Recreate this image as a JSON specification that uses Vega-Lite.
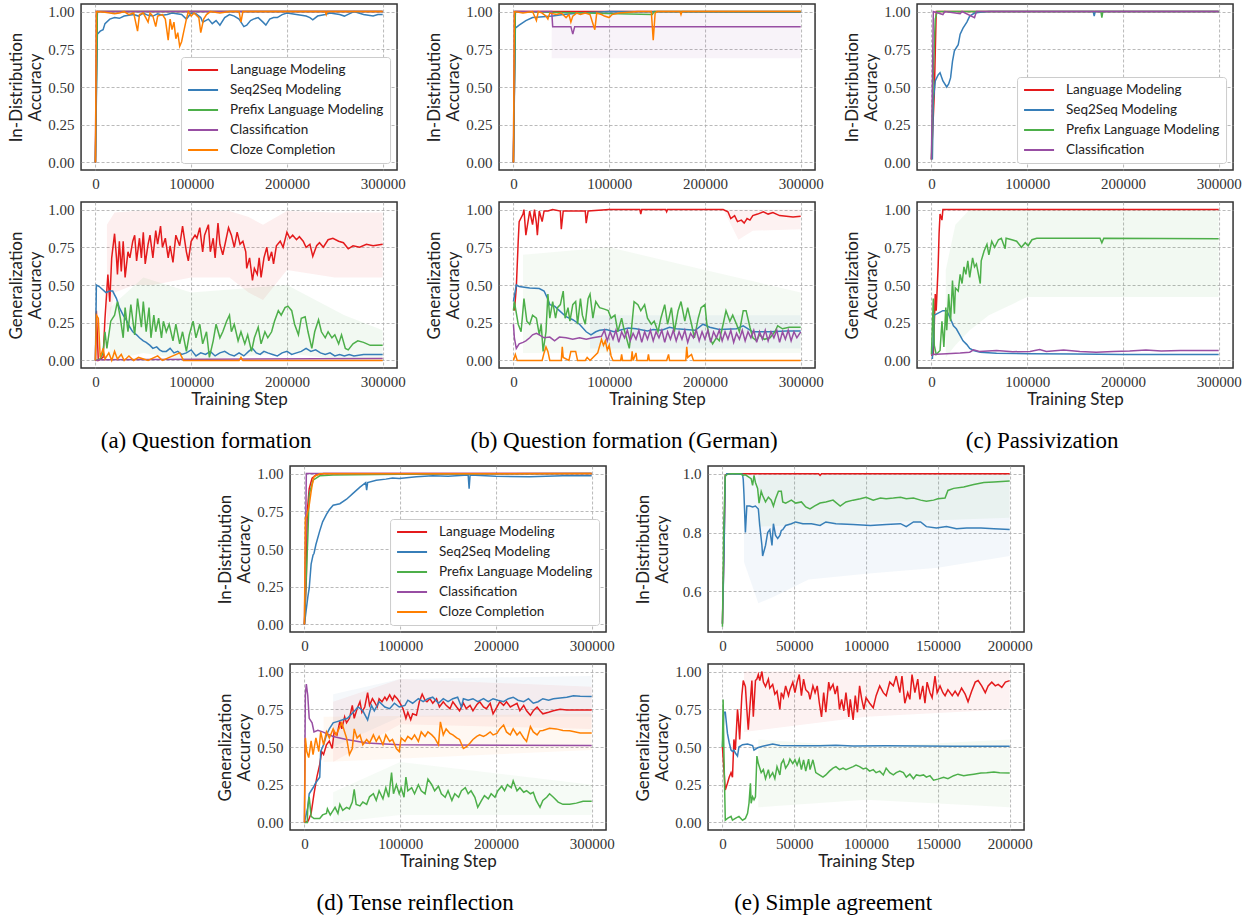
{
"$schema":"https://vega.github.io/schema/vega-lite/v6.json",
"padding":{"left":6,"top":3,"right":0,"bottom":0},
"background":"white",
"config":{
"view":{"stroke":"#333333","strokeWidth":1.5},
"axis":{"domain":false,"ticks":false,"tickSize":0,"labelFont":"Liberation Serif","labelFontSize":15,"labelColor":"#333333","titleFont":"Lato","titleFontSize":17,"titleFontWeight":"normal","titleColor":"#222222","gridColor":"#a8a8a8","gridDash":[3,2],"gridWidth":0.8},
"axisX":{"labelPadding":6,"titlePadding":2},
"axisY":{"labelPadding":7,"titlePadding":4,"minExtent":33,"maxExtent":33,"titleLineHeight":19},
"legend":{"labelFont":"Lato","labelFontSize":13.5,"labelColor":"#222222","symbolType":"stroke","symbolSize":900,"symbolStrokeWidth":1.8,"clipHeight":14,"rowPadding":6,"labelOffset":11,"padding":6,"strokeColor":"#cccccc","fillColor":"#ffffff","cornerRadius":3,"orient":"bottom-right","offset":7},
"title":{"font":"Liberation Serif","fontSize":23,"fontWeight":"normal","color":"#000000","orient":"bottom","anchor":"middle","offset":22}
},
"data":{"values":[
{"p":"a2","m":"L","b":1,"x":12,"y":0.2,"y2":0.9},{"p":"a2","m":"L","b":1,"x":20,"y":0.45,"y2":0.98},{"p":"a2","m":"L","b":1,"x":40,"y":0.5,"y2":0.99},{"p":"a2","m":"L","b":1,"x":60,"y":0.5,"y2":0.99},{"p":"a2","m":"L","b":1,"x":100,"y":0.55,"y2":0.99},{"p":"a2","m":"L","b":1,"x":140,"y":0.55,"y2":0.99},{"p":"a2","m":"L","b":1,"x":160,"y":0.45,"y2":0.95},{"p":"a2","m":"L","b":1,"x":175,"y":0.4,"y2":0.9},{"p":"a2","m":"L","b":1,"x":200,"y":0.6,"y2":0.99},{"p":"a2","m":"L","b":1,"x":250,"y":0.55,"y2":0.98},{"p":"a2","m":"L","b":1,"x":300,"y":0.55,"y2":0.98},
{"p":"a2","m":"P","b":1,"x":15,"y":0,"y2":0.35},{"p":"a2","m":"P","b":1,"x":50,"y":0.05,"y2":0.55},{"p":"a2","m":"P","b":1,"x":100,"y":0,"y2":0.45},{"p":"a2","m":"P","b":1,"x":200,"y":0.05,"y2":0.5},{"p":"a2","m":"P","b":1,"x":260,"y":0,"y2":0.3},{"p":"a2","m":"P","b":1,"x":300,"y":0,"y2":0.2},
{"p":"b1","m":"C","b":1,"x":40,"y":0.69,"y2":1},{"p":"b1","m":"C","b":1,"x":300,"y":0.69,"y2":1},
{"p":"b2","m":"L","b":1,"x":220,"y":0.99,"y2":1},{"p":"b2","m":"L","b":1,"x":235,"y":0.8,"y2":1},{"p":"b2","m":"L","b":1,"x":250,"y":0.86,"y2":1},{"p":"b2","m":"L","b":1,"x":300,"y":0.87,"y2":1},
{"p":"b2","m":"P","b":1,"x":10,"y":0.05,"y2":0.7},{"p":"b2","m":"P","b":1,"x":100,"y":0.05,"y2":0.75},{"p":"b2","m":"P","b":1,"x":200,"y":0.05,"y2":0.6},{"p":"b2","m":"P","b":1,"x":300,"y":0.05,"y2":0.45},
{"p":"b2","m":"S","b":1,"x":80,"y":0.08,"y2":0.3},{"p":"b2","m":"S","b":1,"x":300,"y":0.08,"y2":0.3},
{"p":"c2","m":"P","b":1,"x":15,"y":0.02,"y2":0.6},{"p":"c2","m":"P","b":1,"x":25,"y":0.1,"y2":0.9},{"p":"c2","m":"P","b":1,"x":40,"y":0.2,"y2":1},{"p":"c2","m":"P","b":1,"x":60,"y":0.3,"y2":1},{"p":"c2","m":"P","b":1,"x":100,"y":0.42,"y2":1},{"p":"c2","m":"P","b":1,"x":300,"y":0.42,"y2":1},
{"p":"d2","m":"L","b":1,"x":30,"y":0.4,"y2":0.8},{"p":"d2","m":"L","b":1,"x":100,"y":0.65,"y2":0.95},{"p":"d2","m":"L","b":1,"x":300,"y":0.62,"y2":0.9},
{"p":"d2","m":"S","b":1,"x":30,"y":0.5,"y2":0.85},{"p":"d2","m":"S","b":1,"x":100,"y":0.7,"y2":0.95},{"p":"d2","m":"S","b":1,"x":300,"y":0.7,"y2":0.97},
{"p":"d2","m":"Z","b":1,"x":20,"y":0.4,"y2":0.7},{"p":"d2","m":"Z","b":1,"x":300,"y":0.48,"y2":0.72},
{"p":"d2","m":"P","b":1,"x":30,"y":0,"y2":0.2},{"p":"d2","m":"P","b":1,"x":100,"y":0.05,"y2":0.4},{"p":"d2","m":"P","b":1,"x":300,"y":0.05,"y2":0.25},
{"p":"e1","m":"C","b":1,"x":15,"y":0.7,"y2":1},{"p":"e1","m":"C","b":1,"x":25,"y":0.56,"y2":1},{"p":"e1","m":"C","b":1,"x":35,"y":0.58,"y2":1},{"p":"e1","m":"C","b":1,"x":60,"y":0.64,"y2":1},{"p":"e1","m":"C","b":1,"x":100,"y":0.66,"y2":1},{"p":"e1","m":"C","b":1,"x":150,"y":0.68,"y2":1},{"p":"e1","m":"C","b":1,"x":200,"y":0.72,"y2":1},
{"p":"e1","m":"Z","b":1,"x":25,"y":0.82,"y2":1},{"p":"e1","m":"Z","b":1,"x":200,"y":0.85,"y2":1},
{"p":"e2","m":"L","b":1,"x":15,"y":0.6,"y2":1},{"p":"e2","m":"L","b":1,"x":100,"y":0.7,"y2":1},{"p":"e2","m":"L","b":1,"x":200,"y":0.75,"y2":1},
{"p":"e2","m":"Z","b":1,"x":25,"y":0.1,"y2":0.55},{"p":"e2","m":"Z","b":1,"x":100,"y":0.15,"y2":0.5},{"p":"e2","m":"Z","b":1,"x":200,"y":0.1,"y2":0.55},
{"p":"a1","m":"L","x":0,"y":0},{"p":"a1","m":"L","x":1,"y":0.6},{"p":"a1","m":"L","x":2,"y":1},{"p":"a1","m":"L","x":300,"y":1},
{"p":"a1","m":"S","x":0,"y":0},{"p":"a1","m":"S","x":2,"y":0.85},{"p":"a1","m":"S","x":5,"y":0.87},{"p":"a1","m":"S","x":8,"y":0.88},{"p":"a1","m":"S","x":10,"y":0.92},{"p":"a1","m":"S","x":15,"y":0.95},{"p":"a1","m":"S","x":20,"y":0.96},{"p":"a1","m":"S","x":25,"y":0.955},{"p":"a1","m":"S","x":30,"y":0.97},{"p":"a1","m":"S","x":35,"y":0.975},{"p":"a1","m":"S","x":40,"y":0.98},{"p":"a1","m":"S","x":45,"y":0.97},{"p":"a1","m":"S","x":50,"y":0.99},{"p":"a1","m":"S","x":55,"y":0.975},{"p":"a1","m":"S","x":60,"y":0.97},{"p":"a1","m":"S","x":65,"y":0.985},{"p":"a1","m":"S","x":70,"y":0.975},{"p":"a1","m":"S","x":75,"y":0.98},{"p":"a1","m":"S","x":80,"y":0.99},{"p":"a1","m":"S","x":85,"y":0.985},{"p":"a1","m":"S","x":90,"y":0.98},{"p":"a1","m":"S","x":95,"y":0.95},{"p":"a1","m":"S","x":100,"y":0.99},{"p":"a1","m":"S","x":105,"y":0.985},{"p":"a1","m":"S","x":110,"y":0.96},{"p":"a1","m":"S","x":112,"y":0.93},{"p":"a1","m":"S","x":118,"y":0.95},{"p":"a1","m":"S","x":122,"y":0.92},{"p":"a1","m":"S","x":126,"y":0.94},{"p":"a1","m":"S","x":130,"y":0.91},{"p":"a1","m":"S","x":135,"y":0.96},{"p":"a1","m":"S","x":140,"y":0.98},{"p":"a1","m":"S","x":145,"y":0.97},{"p":"a1","m":"S","x":150,"y":0.95},{"p":"a1","m":"S","x":155,"y":0.9},{"p":"a1","m":"S","x":158,"y":0.91},{"p":"a1","m":"S","x":162,"y":0.94},{"p":"a1","m":"S","x":165,"y":0.95},{"p":"a1","m":"S","x":170,"y":0.96},{"p":"a1","m":"S","x":175,"y":0.93},{"p":"a1","m":"S","x":178,"y":0.91},{"p":"a1","m":"S","x":182,"y":0.95},{"p":"a1","m":"S","x":186,"y":0.96},{"p":"a1","m":"S","x":190,"y":0.96},{"p":"a1","m":"S","x":195,"y":0.98},{"p":"a1","m":"S","x":200,"y":0.99},{"p":"a1","m":"S","x":205,"y":0.985},{"p":"a1","m":"S","x":210,"y":0.98},{"p":"a1","m":"S","x":215,"y":0.975},{"p":"a1","m":"S","x":220,"y":0.97},{"p":"a1","m":"S","x":224,"y":0.96},{"p":"a1","m":"S","x":227,"y":0.945},{"p":"a1","m":"S","x":232,"y":0.97},{"p":"a1","m":"S","x":236,"y":0.975},{"p":"a1","m":"S","x":240,"y":0.98},{"p":"a1","m":"S","x":245,"y":0.99},{"p":"a1","m":"S","x":250,"y":0.985},{"p":"a1","m":"S","x":255,"y":0.98},{"p":"a1","m":"S","x":260,"y":0.97},{"p":"a1","m":"S","x":265,"y":0.985},{"p":"a1","m":"S","x":270,"y":1},{"p":"a1","m":"S","x":275,"y":0.99},{"p":"a1","m":"S","x":280,"y":0.98},{"p":"a1","m":"S","x":285,"y":0.975},{"p":"a1","m":"S","x":290,"y":0.97},{"p":"a1","m":"S","x":295,"y":0.98},{"p":"a1","m":"S","x":300,"y":0.98},
{"p":"a1","m":"P","x":0,"y":0},{"p":"a1","m":"P","x":2,"y":1},{"p":"a1","m":"P","x":300,"y":1},
{"p":"a1","m":"C","x":0,"y":0},{"p":"a1","m":"C","x":1,"y":1},{"p":"a1","m":"C","x":300,"y":1},
{"p":"a1","m":"Z","x":0,"y":0},{"p":"a1","m":"Z","x":1,"y":1},{"p":"a1","m":"Z","x":10,"y":0.995},{"p":"a1","m":"Z","x":20,"y":0.985},{"p":"a1","m":"Z","x":25,"y":0.99},{"p":"a1","m":"Z","x":30,"y":1},{"p":"a1","m":"Z","x":35,"y":0.98},{"p":"a1","m":"Z","x":40,"y":0.99},{"p":"a1","m":"Z","x":44,"y":0.87},{"p":"a1","m":"Z","x":46,"y":0.98},{"p":"a1","m":"Z","x":50,"y":0.99},{"p":"a1","m":"Z","x":55,"y":0.93},{"p":"a1","m":"Z","x":57,"y":0.99},{"p":"a1","m":"Z","x":60,"y":0.97},{"p":"a1","m":"Z","x":63,"y":0.9},{"p":"a1","m":"Z","x":65,"y":0.97},{"p":"a1","m":"Z","x":70,"y":0.98},{"p":"a1","m":"Z","x":73,"y":0.95},{"p":"a1","m":"Z","x":76,"y":0.81},{"p":"a1","m":"Z","x":78,"y":0.95},{"p":"a1","m":"Z","x":80,"y":0.88},{"p":"a1","m":"Z","x":82,"y":0.93},{"p":"a1","m":"Z","x":84,"y":0.82},{"p":"a1","m":"Z","x":86,"y":0.86},{"p":"a1","m":"Z","x":88,"y":0.77},{"p":"a1","m":"Z","x":90,"y":0.8},{"p":"a1","m":"Z","x":92,"y":0.86},{"p":"a1","m":"Z","x":95,"y":0.95},{"p":"a1","m":"Z","x":97,"y":1},{"p":"a1","m":"Z","x":100,"y":0.97},{"p":"a1","m":"Z","x":103,"y":0.99},{"p":"a1","m":"Z","x":108,"y":0.96},{"p":"a1","m":"Z","x":110,"y":0.86},{"p":"a1","m":"Z","x":113,"y":0.95},{"p":"a1","m":"Z","x":116,"y":0.98},{"p":"a1","m":"Z","x":120,"y":1},{"p":"a1","m":"Z","x":130,"y":0.99},{"p":"a1","m":"Z","x":140,"y":1},{"p":"a1","m":"Z","x":150,"y":1},{"p":"a1","m":"Z","x":152,"y":0.93},{"p":"a1","m":"Z","x":154,"y":1},{"p":"a1","m":"Z","x":240,"y":1},{"p":"a1","m":"Z","x":241,"y":0.98},{"p":"a1","m":"Z","x":242,"y":1},{"p":"a1","m":"Z","x":300,"y":1},
{"p":"a2","m":"L","x":0,"y":0},{"p":"a2","m":"L","x":1,"y":0.33},{"p":"a2","m":"L","x":3,"y":0},{"p":"a2","m":"L","x":8,"y":0.02},{"p":"a2","m":"L","x":10,"y":0.28},{"p":"a2","m":"L","x":13,"y":0.57},{"p":"a2","m":"L","x":15,"y":0.39},{"p":"a2","m":"L","x":17,"y":0.68},{"p":"a2","m":"L","x":20,"y":0.84},{"p":"a2","m":"L","x":22,"y":0.68},{"p":"a2","m":"L","x":23,"y":0.57},{"p":"a2","m":"L","x":25,"y":0.79},{"p":"a2","m":"L","x":27,"y":0.59},{"p":"a2","m":"L","x":29,"y":0.79},{"p":"a2","m":"L","x":31,"y":0.55},{"p":"a2","m":"L","x":34,"y":0.72},{"p":"a2","m":"L","x":36,"y":0.68},{"p":"a2","m":"L","x":39,"y":0.79},{"p":"a2","m":"L","x":41,"y":0.83},{"p":"a2","m":"L","x":43,"y":0.66},{"p":"a2","m":"L","x":46,"y":0.81},{"p":"a2","m":"L","x":48,"y":0.68},{"p":"a2","m":"L","x":50,"y":0.85},{"p":"a2","m":"L","x":52,"y":0.64},{"p":"a2","m":"L","x":55,"y":0.77},{"p":"a2","m":"L","x":57,"y":0.83},{"p":"a2","m":"L","x":60,"y":0.68},{"p":"a2","m":"L","x":63,"y":0.86},{"p":"a2","m":"L","x":65,"y":0.77},{"p":"a2","m":"L","x":68,"y":0.89},{"p":"a2","m":"L","x":70,"y":0.75},{"p":"a2","m":"L","x":73,"y":0.81},{"p":"a2","m":"L","x":76,"y":0.68},{"p":"a2","m":"L","x":78,"y":0.76},{"p":"a2","m":"L","x":81,"y":0.65},{"p":"a2","m":"L","x":84,"y":0.83},{"p":"a2","m":"L","x":88,"y":0.76},{"p":"a2","m":"L","x":91,"y":0.89},{"p":"a2","m":"L","x":95,"y":0.72},{"p":"a2","m":"L","x":97,"y":0.66},{"p":"a2","m":"L","x":100,"y":0.79},{"p":"a2","m":"L","x":104,"y":0.83},{"p":"a2","m":"L","x":106,"y":0.81},{"p":"a2","m":"L","x":109,"y":0.88},{"p":"a2","m":"L","x":112,"y":0.72},{"p":"a2","m":"L","x":114,"y":0.83},{"p":"a2","m":"L","x":118,"y":0.9},{"p":"a2","m":"L","x":120,"y":0.72},{"p":"a2","m":"L","x":123,"y":0.81},{"p":"a2","m":"L","x":125,"y":0.68},{"p":"a2","m":"L","x":128,"y":0.91},{"p":"a2","m":"L","x":130,"y":0.77},{"p":"a2","m":"L","x":133,"y":0.7},{"p":"a2","m":"L","x":136,"y":0.79},{"p":"a2","m":"L","x":139,"y":0.88},{"p":"a2","m":"L","x":142,"y":0.83},{"p":"a2","m":"L","x":145,"y":0.75},{"p":"a2","m":"L","x":148,"y":0.85},{"p":"a2","m":"L","x":151,"y":0.77},{"p":"a2","m":"L","x":154,"y":0.79},{"p":"a2","m":"L","x":157,"y":0.72},{"p":"a2","m":"L","x":158,"y":0.61},{"p":"a2","m":"L","x":161,"y":0.68},{"p":"a2","m":"L","x":164,"y":0.53},{"p":"a2","m":"L","x":166,"y":0.61},{"p":"a2","m":"L","x":169,"y":0.57},{"p":"a2","m":"L","x":171,"y":0.68},{"p":"a2","m":"L","x":173,"y":0.55},{"p":"a2","m":"L","x":176,"y":0.68},{"p":"a2","m":"L","x":179,"y":0.75},{"p":"a2","m":"L","x":181,"y":0.66},{"p":"a2","m":"L","x":184,"y":0.72},{"p":"a2","m":"L","x":186,"y":0.64},{"p":"a2","m":"L","x":189,"y":0.76},{"p":"a2","m":"L","x":193,"y":0.79},{"p":"a2","m":"L","x":196,"y":0.75},{"p":"a2","m":"L","x":200,"y":0.85},{"p":"a2","m":"L","x":203,"y":0.81},{"p":"a2","m":"L","x":206,"y":0.83},{"p":"a2","m":"L","x":210,"y":0.8},{"p":"a2","m":"L","x":213,"y":0.82},{"p":"a2","m":"L","x":217,"y":0.79},{"p":"a2","m":"L","x":220,"y":0.75},{"p":"a2","m":"L","x":224,"y":0.77},{"p":"a2","m":"L","x":227,"y":0.69},{"p":"a2","m":"L","x":231,"y":0.76},{"p":"a2","m":"L","x":234,"y":0.78},{"p":"a2","m":"L","x":238,"y":0.75},{"p":"a2","m":"L","x":243,"y":0.8},{"p":"a2","m":"L","x":248,"y":0.81},{"p":"a2","m":"L","x":254,"y":0.79},{"p":"a2","m":"L","x":259,"y":0.78},{"p":"a2","m":"L","x":264,"y":0.74},{"p":"a2","m":"L","x":269,"y":0.76},{"p":"a2","m":"L","x":276,"y":0.75},{"p":"a2","m":"L","x":283,"y":0.77},{"p":"a2","m":"L","x":290,"y":0.76},{"p":"a2","m":"L","x":300,"y":0.77},
{"p":"a2","m":"S","x":0,"y":0},{"p":"a2","m":"S","x":1,"y":0.5},{"p":"a2","m":"S","x":4,"y":0.49},{"p":"a2","m":"S","x":11,"y":0.45},{"p":"a2","m":"S","x":15,"y":0.46},{"p":"a2","m":"S","x":18,"y":0.46},{"p":"a2","m":"S","x":22,"y":0.41},{"p":"a2","m":"S","x":25,"y":0.35},{"p":"a2","m":"S","x":29,"y":0.3},{"p":"a2","m":"S","x":32,"y":0.27},{"p":"a2","m":"S","x":36,"y":0.22},{"p":"a2","m":"S","x":39,"y":0.19},{"p":"a2","m":"S","x":43,"y":0.17},{"p":"a2","m":"S","x":46,"y":0.15},{"p":"a2","m":"S","x":50,"y":0.13},{"p":"a2","m":"S","x":53,"y":0.12},{"p":"a2","m":"S","x":57,"y":0.1},{"p":"a2","m":"S","x":60,"y":0.08},{"p":"a2","m":"S","x":64,"y":0.09},{"p":"a2","m":"S","x":67,"y":0.07},{"p":"a2","m":"S","x":70,"y":0.06},{"p":"a2","m":"S","x":74,"y":0.06},{"p":"a2","m":"S","x":78,"y":0.08},{"p":"a2","m":"S","x":82,"y":0.05},{"p":"a2","m":"S","x":86,"y":0.06},{"p":"a2","m":"S","x":90,"y":0.04},{"p":"a2","m":"S","x":95,"y":0.05},{"p":"a2","m":"S","x":100,"y":0.07},{"p":"a2","m":"S","x":105,"y":0.03},{"p":"a2","m":"S","x":110,"y":0.05},{"p":"a2","m":"S","x":115,"y":0.04},{"p":"a2","m":"S","x":120,"y":0.06},{"p":"a2","m":"S","x":125,"y":0.03},{"p":"a2","m":"S","x":130,"y":0.05},{"p":"a2","m":"S","x":135,"y":0.06},{"p":"a2","m":"S","x":140,"y":0.04},{"p":"a2","m":"S","x":145,"y":0.03},{"p":"a2","m":"S","x":150,"y":0.05},{"p":"a2","m":"S","x":155,"y":0.03},{"p":"a2","m":"S","x":160,"y":0.06},{"p":"a2","m":"S","x":164,"y":0.08},{"p":"a2","m":"S","x":168,"y":0.05},{"p":"a2","m":"S","x":172,"y":0.04},{"p":"a2","m":"S","x":176,"y":0.06},{"p":"a2","m":"S","x":180,"y":0.05},{"p":"a2","m":"S","x":185,"y":0.04},{"p":"a2","m":"S","x":190,"y":0.03},{"p":"a2","m":"S","x":195,"y":0.05},{"p":"a2","m":"S","x":200,"y":0.06},{"p":"a2","m":"S","x":205,"y":0.04},{"p":"a2","m":"S","x":210,"y":0.05},{"p":"a2","m":"S","x":215,"y":0.06},{"p":"a2","m":"S","x":220,"y":0.08},{"p":"a2","m":"S","x":225,"y":0.06},{"p":"a2","m":"S","x":230,"y":0.07},{"p":"a2","m":"S","x":235,"y":0.05},{"p":"a2","m":"S","x":240,"y":0.04},{"p":"a2","m":"S","x":245,"y":0.05},{"p":"a2","m":"S","x":250,"y":0.03},{"p":"a2","m":"S","x":255,"y":0.04},{"p":"a2","m":"S","x":260,"y":0.03},{"p":"a2","m":"S","x":265,"y":0.04},{"p":"a2","m":"S","x":270,"y":0.03},{"p":"a2","m":"S","x":280,"y":0.04},{"p":"a2","m":"S","x":290,"y":0.04},{"p":"a2","m":"S","x":300,"y":0.04},
{"p":"a2","m":"P","x":0,"y":0},{"p":"a2","m":"P","x":5,"y":0.01},{"p":"a2","m":"P","x":8,"y":0.05},{"p":"a2","m":"P","x":10,"y":0.19},{"p":"a2","m":"P","x":12,"y":0.08},{"p":"a2","m":"P","x":16,"y":0.26},{"p":"a2","m":"P","x":20,"y":0.3},{"p":"a2","m":"P","x":23,"y":0.39},{"p":"a2","m":"P","x":26,"y":0.28},{"p":"a2","m":"P","x":29,"y":0.15},{"p":"a2","m":"P","x":31,"y":0.35},{"p":"a2","m":"P","x":34,"y":0.19},{"p":"a2","m":"P","x":37,"y":0.37},{"p":"a2","m":"P","x":41,"y":0.17},{"p":"a2","m":"P","x":44,"y":0.41},{"p":"a2","m":"P","x":48,"y":0.22},{"p":"a2","m":"P","x":50,"y":0.39},{"p":"a2","m":"P","x":53,"y":0.19},{"p":"a2","m":"P","x":56,"y":0.35},{"p":"a2","m":"P","x":58,"y":0.15},{"p":"a2","m":"P","x":61,"y":0.3},{"p":"a2","m":"P","x":63,"y":0.19},{"p":"a2","m":"P","x":66,"y":0.28},{"p":"a2","m":"P","x":69,"y":0.15},{"p":"a2","m":"P","x":71,"y":0.26},{"p":"a2","m":"P","x":74,"y":0.19},{"p":"a2","m":"P","x":77,"y":0.24},{"p":"a2","m":"P","x":81,"y":0.13},{"p":"a2","m":"P","x":84,"y":0.24},{"p":"a2","m":"P","x":88,"y":0.11},{"p":"a2","m":"P","x":91,"y":0.19},{"p":"a2","m":"P","x":95,"y":0.06},{"p":"a2","m":"P","x":98,"y":0.17},{"p":"a2","m":"P","x":102,"y":0.26},{"p":"a2","m":"P","x":105,"y":0.15},{"p":"a2","m":"P","x":109,"y":0.24},{"p":"a2","m":"P","x":112,"y":0.11},{"p":"a2","m":"P","x":116,"y":0.19},{"p":"a2","m":"P","x":119,"y":0.02},{"p":"a2","m":"P","x":123,"y":0.13},{"p":"a2","m":"P","x":126,"y":0.24},{"p":"a2","m":"P","x":130,"y":0.15},{"p":"a2","m":"P","x":133,"y":0.19},{"p":"a2","m":"P","x":137,"y":0.26},{"p":"a2","m":"P","x":140,"y":0.3},{"p":"a2","m":"P","x":142,"y":0.19},{"p":"a2","m":"P","x":145,"y":0.24},{"p":"a2","m":"P","x":149,"y":0.13},{"p":"a2","m":"P","x":152,"y":0.19},{"p":"a2","m":"P","x":156,"y":0.11},{"p":"a2","m":"P","x":159,"y":0.17},{"p":"a2","m":"P","x":163,"y":0.06},{"p":"a2","m":"P","x":166,"y":0.15},{"p":"a2","m":"P","x":170,"y":0.22},{"p":"a2","m":"P","x":173,"y":0.11},{"p":"a2","m":"P","x":177,"y":0.19},{"p":"a2","m":"P","x":180,"y":0.15},{"p":"a2","m":"P","x":184,"y":0.19},{"p":"a2","m":"P","x":187,"y":0.26},{"p":"a2","m":"P","x":191,"y":0.33},{"p":"a2","m":"P","x":194,"y":0.3},{"p":"a2","m":"P","x":198,"y":0.35},{"p":"a2","m":"P","x":201,"y":0.36},{"p":"a2","m":"P","x":205,"y":0.33},{"p":"a2","m":"P","x":208,"y":0.24},{"p":"a2","m":"P","x":212,"y":0.17},{"p":"a2","m":"P","x":215,"y":0.28},{"p":"a2","m":"P","x":219,"y":0.29},{"p":"a2","m":"P","x":222,"y":0.19},{"p":"a2","m":"P","x":226,"y":0.08},{"p":"a2","m":"P","x":229,"y":0.19},{"p":"a2","m":"P","x":233,"y":0.27},{"p":"a2","m":"P","x":236,"y":0.19},{"p":"a2","m":"P","x":240,"y":0.15},{"p":"a2","m":"P","x":243,"y":0.19},{"p":"a2","m":"P","x":247,"y":0.15},{"p":"a2","m":"P","x":250,"y":0.17},{"p":"a2","m":"P","x":254,"y":0.11},{"p":"a2","m":"P","x":257,"y":0.17},{"p":"a2","m":"P","x":261,"y":0.08},{"p":"a2","m":"P","x":264,"y":0.07},{"p":"a2","m":"P","x":269,"y":0.11},{"p":"a2","m":"P","x":274,"y":0.13},{"p":"a2","m":"P","x":280,"y":0.12},{"p":"a2","m":"P","x":287,"y":0.1},{"p":"a2","m":"P","x":300,"y":0.1},
{"p":"a2","m":"C","x":0,"y":0},{"p":"a2","m":"C","x":5,"y":0.005},{"p":"a2","m":"C","x":300,"y":0.013},
{"p":"a2","m":"Z","x":0,"y":0},{"p":"a2","m":"Z","x":1,"y":0.3},{"p":"a2","m":"Z","x":3,"y":0.28},{"p":"a2","m":"Z","x":5,"y":0.02},{"p":"a2","m":"Z","x":8,"y":0.08},{"p":"a2","m":"Z","x":10,"y":0.01},{"p":"a2","m":"Z","x":14,"y":0.05},{"p":"a2","m":"Z","x":17,"y":0},{"p":"a2","m":"Z","x":20,"y":0.06},{"p":"a2","m":"Z","x":23,"y":0.01},{"p":"a2","m":"Z","x":27,"y":0.04},{"p":"a2","m":"Z","x":30,"y":0},{"p":"a2","m":"Z","x":35,"y":0.03},{"p":"a2","m":"Z","x":40,"y":0},{"p":"a2","m":"Z","x":45,"y":0.02},{"p":"a2","m":"Z","x":55,"y":0},{"p":"a2","m":"Z","x":65,"y":0.03},{"p":"a2","m":"Z","x":70,"y":0},{"p":"a2","m":"Z","x":88,"y":0.05},{"p":"a2","m":"Z","x":92,"y":0},{"p":"a2","m":"Z","x":150,"y":0},{"p":"a2","m":"Z","x":152,"y":0.02},{"p":"a2","m":"Z","x":154,"y":0},{"p":"a2","m":"Z","x":300,"y":0},
{"p":"b1","m":"L","x":0,"y":0},{"p":"b1","m":"L","x":2,"y":1},{"p":"b1","m":"L","x":300,"y":1},
{"p":"b1","m":"S","x":0,"y":0},{"p":"b1","m":"S","x":2,"y":0.89},{"p":"b1","m":"S","x":6,"y":0.91},{"p":"b1","m":"S","x":13,"y":0.94},{"p":"b1","m":"S","x":20,"y":0.96},{"p":"b1","m":"S","x":31,"y":0.965},{"p":"b1","m":"S","x":41,"y":0.97},{"p":"b1","m":"S","x":52,"y":0.98},{"p":"b1","m":"S","x":69,"y":0.99},{"p":"b1","m":"S","x":86,"y":0.995},{"p":"b1","m":"S","x":100,"y":1},{"p":"b1","m":"S","x":300,"y":0.995},
{"p":"b1","m":"P","x":0,"y":0},{"p":"b1","m":"P","x":2,"y":1},{"p":"b1","m":"P","x":145,"y":0.98},{"p":"b1","m":"P","x":147,"y":1},{"p":"b1","m":"P","x":300,"y":1},
{"p":"b1","m":"C","x":0,"y":0},{"p":"b1","m":"C","x":1,"y":1},{"p":"b1","m":"C","x":40,"y":1},{"p":"b1","m":"C","x":41,"y":0.9},{"p":"b1","m":"C","x":60,"y":0.9},{"p":"b1","m":"C","x":62,"y":0.85},{"p":"b1","m":"C","x":64,"y":0.9},{"p":"b1","m":"C","x":300,"y":0.9},
{"p":"b1","m":"Z","x":0,"y":0},{"p":"b1","m":"Z","x":1,"y":1},{"p":"b1","m":"Z","x":10,"y":0.99},{"p":"b1","m":"Z","x":20,"y":1},{"p":"b1","m":"Z","x":24,"y":0.94},{"p":"b1","m":"Z","x":26,"y":1},{"p":"b1","m":"Z","x":30,"y":0.99},{"p":"b1","m":"Z","x":34,"y":0.97},{"p":"b1","m":"Z","x":36,"y":0.95},{"p":"b1","m":"Z","x":38,"y":0.99},{"p":"b1","m":"Z","x":45,"y":0.98},{"p":"b1","m":"Z","x":50,"y":0.99},{"p":"b1","m":"Z","x":55,"y":0.96},{"p":"b1","m":"Z","x":58,"y":0.98},{"p":"b1","m":"Z","x":60,"y":0.93},{"p":"b1","m":"Z","x":62,"y":0.97},{"p":"b1","m":"Z","x":66,"y":0.99},{"p":"b1","m":"Z","x":70,"y":0.98},{"p":"b1","m":"Z","x":75,"y":0.99},{"p":"b1","m":"Z","x":80,"y":0.98},{"p":"b1","m":"Z","x":85,"y":0.88},{"p":"b1","m":"Z","x":87,"y":0.99},{"p":"b1","m":"Z","x":92,"y":0.98},{"p":"b1","m":"Z","x":95,"y":0.97},{"p":"b1","m":"Z","x":100,"y":0.96},{"p":"b1","m":"Z","x":103,"y":0.98},{"p":"b1","m":"Z","x":110,"y":0.99},{"p":"b1","m":"Z","x":130,"y":1},{"p":"b1","m":"Z","x":144,"y":1},{"p":"b1","m":"Z","x":146,"y":0.81},{"p":"b1","m":"Z","x":148,"y":0.99},{"p":"b1","m":"Z","x":150,"y":1},{"p":"b1","m":"Z","x":174,"y":1},{"p":"b1","m":"Z","x":175,"y":0.98},{"p":"b1","m":"Z","x":176,"y":1},{"p":"b1","m":"Z","x":300,"y":1},
{"p":"b2","m":"L","x":1,"y":0.33},{"p":"b2","m":"L","x":3,"y":0.48},{"p":"b2","m":"L","x":5,"y":0.79},{"p":"b2","m":"L","x":6,"y":0.92},{"p":"b2","m":"L","x":10,"y":0.97},{"p":"b2","m":"L","x":11,"y":1},{"p":"b2","m":"L","x":13,"y":0.83},{"p":"b2","m":"L","x":17,"y":0.99},{"p":"b2","m":"L","x":20,"y":0.9},{"p":"b2","m":"L","x":22,"y":1},{"p":"b2","m":"L","x":24,"y":0.91},{"p":"b2","m":"L","x":25,"y":0.83},{"p":"b2","m":"L","x":27,"y":0.99},{"p":"b2","m":"L","x":30,"y":0.92},{"p":"b2","m":"L","x":32,"y":0.99},{"p":"b2","m":"L","x":36,"y":0.99},{"p":"b2","m":"L","x":41,"y":1},{"p":"b2","m":"L","x":49,"y":0.99},{"p":"b2","m":"L","x":50,"y":0.87},{"p":"b2","m":"L","x":52,"y":0.99},{"p":"b2","m":"L","x":75,"y":0.99},{"p":"b2","m":"L","x":76,"y":0.91},{"p":"b2","m":"L","x":78,"y":0.99},{"p":"b2","m":"L","x":100,"y":1},{"p":"b2","m":"L","x":132,"y":1},{"p":"b2","m":"L","x":133,"y":0.97},{"p":"b2","m":"L","x":134,"y":1},{"p":"b2","m":"L","x":159,"y":1},{"p":"b2","m":"L","x":160,"y":0.985},{"p":"b2","m":"L","x":161,"y":1},{"p":"b2","m":"L","x":219,"y":1},{"p":"b2","m":"L","x":224,"y":0.985},{"p":"b2","m":"L","x":227,"y":0.94},{"p":"b2","m":"L","x":231,"y":0.96},{"p":"b2","m":"L","x":234,"y":0.92},{"p":"b2","m":"L","x":238,"y":0.93},{"p":"b2","m":"L","x":241,"y":0.91},{"p":"b2","m":"L","x":244,"y":0.94},{"p":"b2","m":"L","x":247,"y":0.93},{"p":"b2","m":"L","x":250,"y":0.96},{"p":"b2","m":"L","x":255,"y":0.97},{"p":"b2","m":"L","x":261,"y":0.985},{"p":"b2","m":"L","x":266,"y":0.97},{"p":"b2","m":"L","x":271,"y":0.98},{"p":"b2","m":"L","x":278,"y":0.96},{"p":"b2","m":"L","x":285,"y":0.955},{"p":"b2","m":"L","x":292,"y":0.95},{"p":"b2","m":"L","x":300,"y":0.955},
{"p":"b2","m":"S","x":0,"y":0.39},{"p":"b2","m":"S","x":3,"y":0.5},{"p":"b2","m":"S","x":6,"y":0.49},{"p":"b2","m":"S","x":17,"y":0.48},{"p":"b2","m":"S","x":27,"y":0.477},{"p":"b2","m":"S","x":32,"y":0.46},{"p":"b2","m":"S","x":35,"y":0.42},{"p":"b2","m":"S","x":38,"y":0.37},{"p":"b2","m":"S","x":43,"y":0.36},{"p":"b2","m":"S","x":48,"y":0.33},{"p":"b2","m":"S","x":55,"y":0.29},{"p":"b2","m":"S","x":62,"y":0.27},{"p":"b2","m":"S","x":69,"y":0.24},{"p":"b2","m":"S","x":76,"y":0.19},{"p":"b2","m":"S","x":81,"y":0.17},{"p":"b2","m":"S","x":86,"y":0.19},{"p":"b2","m":"S","x":90,"y":0.2},{"p":"b2","m":"S","x":97,"y":0.205},{"p":"b2","m":"S","x":105,"y":0.19},{"p":"b2","m":"S","x":111,"y":0.2},{"p":"b2","m":"S","x":120,"y":0.215},{"p":"b2","m":"S","x":128,"y":0.21},{"p":"b2","m":"S","x":140,"y":0.195},{"p":"b2","m":"S","x":146,"y":0.205},{"p":"b2","m":"S","x":155,"y":0.2},{"p":"b2","m":"S","x":163,"y":0.22},{"p":"b2","m":"S","x":170,"y":0.21},{"p":"b2","m":"S","x":180,"y":0.205},{"p":"b2","m":"S","x":190,"y":0.2},{"p":"b2","m":"S","x":198,"y":0.24},{"p":"b2","m":"S","x":205,"y":0.22},{"p":"b2","m":"S","x":215,"y":0.205},{"p":"b2","m":"S","x":233,"y":0.21},{"p":"b2","m":"S","x":240,"y":0.23},{"p":"b2","m":"S","x":250,"y":0.19},{"p":"b2","m":"S","x":268,"y":0.19},{"p":"b2","m":"S","x":285,"y":0.195},{"p":"b2","m":"S","x":300,"y":0.195},
{"p":"b2","m":"P","x":0,"y":0.33},{"p":"b2","m":"P","x":1,"y":0.39},{"p":"b2","m":"P","x":5,"y":0.24},{"p":"b2","m":"P","x":8,"y":0.19},{"p":"b2","m":"P","x":11,"y":0.41},{"p":"b2","m":"P","x":14,"y":0.26},{"p":"b2","m":"P","x":17,"y":0.24},{"p":"b2","m":"P","x":20,"y":0.3},{"p":"b2","m":"P","x":24,"y":0.28},{"p":"b2","m":"P","x":27,"y":0.17},{"p":"b2","m":"P","x":29,"y":0.24},{"p":"b2","m":"P","x":31,"y":0.06},{"p":"b2","m":"P","x":34,"y":0.19},{"p":"b2","m":"P","x":36,"y":0.44},{"p":"b2","m":"P","x":38,"y":0.28},{"p":"b2","m":"P","x":41,"y":0.39},{"p":"b2","m":"P","x":44,"y":0.28},{"p":"b2","m":"P","x":46,"y":0.35},{"p":"b2","m":"P","x":49,"y":0.37},{"p":"b2","m":"P","x":52,"y":0.46},{"p":"b2","m":"P","x":54,"y":0.28},{"p":"b2","m":"P","x":57,"y":0.35},{"p":"b2","m":"P","x":59,"y":0.26},{"p":"b2","m":"P","x":62,"y":0.37},{"p":"b2","m":"P","x":65,"y":0.39},{"p":"b2","m":"P","x":67,"y":0.24},{"p":"b2","m":"P","x":70,"y":0.41},{"p":"b2","m":"P","x":72,"y":0.3},{"p":"b2","m":"P","x":75,"y":0.24},{"p":"b2","m":"P","x":78,"y":0.41},{"p":"b2","m":"P","x":80,"y":0.44},{"p":"b2","m":"P","x":83,"y":0.28},{"p":"b2","m":"P","x":86,"y":0.39},{"p":"b2","m":"P","x":90,"y":0.35},{"p":"b2","m":"P","x":95,"y":0.34},{"p":"b2","m":"P","x":99,"y":0.33},{"p":"b2","m":"P","x":102,"y":0.28},{"p":"b2","m":"P","x":106,"y":0.3},{"p":"b2","m":"P","x":109,"y":0.19},{"p":"b2","m":"P","x":113,"y":0.28},{"p":"b2","m":"P","x":115,"y":0.22},{"p":"b2","m":"P","x":118,"y":0.15},{"p":"b2","m":"P","x":121,"y":0.08},{"p":"b2","m":"P","x":123,"y":0.19},{"p":"b2","m":"P","x":126,"y":0.39},{"p":"b2","m":"P","x":130,"y":0.37},{"p":"b2","m":"P","x":133,"y":0.33},{"p":"b2","m":"P","x":137,"y":0.37},{"p":"b2","m":"P","x":140,"y":0.28},{"p":"b2","m":"P","x":144,"y":0.24},{"p":"b2","m":"P","x":147,"y":0.26},{"p":"b2","m":"P","x":151,"y":0.19},{"p":"b2","m":"P","x":154,"y":0.28},{"p":"b2","m":"P","x":158,"y":0.37},{"p":"b2","m":"P","x":161,"y":0.24},{"p":"b2","m":"P","x":165,"y":0.35},{"p":"b2","m":"P","x":168,"y":0.19},{"p":"b2","m":"P","x":172,"y":0.33},{"p":"b2","m":"P","x":175,"y":0.39},{"p":"b2","m":"P","x":179,"y":0.26},{"p":"b2","m":"P","x":182,"y":0.35},{"p":"b2","m":"P","x":186,"y":0.24},{"p":"b2","m":"P","x":189,"y":0.15},{"p":"b2","m":"P","x":193,"y":0.28},{"p":"b2","m":"P","x":196,"y":0.35},{"p":"b2","m":"P","x":200,"y":0.37},{"p":"b2","m":"P","x":202,"y":0.24},{"p":"b2","m":"P","x":205,"y":0.15},{"p":"b2","m":"P","x":208,"y":0.11},{"p":"b2","m":"P","x":212,"y":0.15},{"p":"b2","m":"P","x":215,"y":0.13},{"p":"b2","m":"P","x":219,"y":0.24},{"p":"b2","m":"P","x":222,"y":0.33},{"p":"b2","m":"P","x":226,"y":0.26},{"p":"b2","m":"P","x":229,"y":0.3},{"p":"b2","m":"P","x":233,"y":0.24},{"p":"b2","m":"P","x":236,"y":0.19},{"p":"b2","m":"P","x":240,"y":0.33},{"p":"b2","m":"P","x":243,"y":0.33},{"p":"b2","m":"P","x":247,"y":0.22},{"p":"b2","m":"P","x":250,"y":0.15},{"p":"b2","m":"P","x":254,"y":0.13},{"p":"b2","m":"P","x":257,"y":0.17},{"p":"b2","m":"P","x":262,"y":0.14},{"p":"b2","m":"P","x":268,"y":0.15},{"p":"b2","m":"P","x":273,"y":0.19},{"p":"b2","m":"P","x":276,"y":0.23},{"p":"b2","m":"P","x":281,"y":0.21},{"p":"b2","m":"P","x":288,"y":0.22},{"p":"b2","m":"P","x":300,"y":0.22},
{"p":"b2","m":"C","x":0,"y":0.24},{"p":"b2","m":"C","x":1,"y":0.15},{"p":"b2","m":"C","x":3,"y":0.08},{"p":"b2","m":"C","x":6,"y":0.11},{"p":"b2","m":"C","x":10,"y":0.12},{"p":"b2","m":"C","x":13,"y":0.13},{"p":"b2","m":"C","x":17,"y":0.15},{"p":"b2","m":"C","x":20,"y":0.17},{"p":"b2","m":"C","x":24,"y":0.18},{"p":"b2","m":"C","x":27,"y":0.17},{"p":"b2","m":"C","x":32,"y":0.15},{"p":"b2","m":"C","x":38,"y":0.155},{"p":"b2","m":"C","x":43,"y":0.13},{"p":"b2","m":"C","x":48,"y":0.155},{"p":"b2","m":"C","x":55,"y":0.15},{"p":"b2","m":"C","x":62,"y":0.14},{"p":"b2","m":"C","x":69,"y":0.15},{"p":"b2","m":"C","x":76,"y":0.14},{"p":"b2","m":"C","x":83,"y":0.15},{"p":"b2","m":"C","x":92,"y":0.16},{"p":"b2","m":"C","x":95,"y":0.2},{"p":"b2","m":"C","x":98,"y":0.13},{"p":"b2","m":"C","x":101,"y":0.19},{"p":"b2","m":"C","x":104,"y":0.14},{"p":"b2","m":"C","x":107,"y":0.2},{"p":"b2","m":"C","x":110,"y":0.12},{"p":"b2","m":"C","x":113,"y":0.19},{"p":"b2","m":"C","x":116,"y":0.15},{"p":"b2","m":"C","x":119,"y":0.2},{"p":"b2","m":"C","x":122,"y":0.13},{"p":"b2","m":"C","x":125,"y":0.18},{"p":"b2","m":"C","x":128,"y":0.14},{"p":"b2","m":"C","x":131,"y":0.2},{"p":"b2","m":"C","x":134,"y":0.12},{"p":"b2","m":"C","x":137,"y":0.19},{"p":"b2","m":"C","x":140,"y":0.14},{"p":"b2","m":"C","x":143,"y":0.2},{"p":"b2","m":"C","x":146,"y":0.13},{"p":"b2","m":"C","x":149,"y":0.19},{"p":"b2","m":"C","x":152,"y":0.15},{"p":"b2","m":"C","x":155,"y":0.2},{"p":"b2","m":"C","x":158,"y":0.12},{"p":"b2","m":"C","x":161,"y":0.19},{"p":"b2","m":"C","x":164,"y":0.14},{"p":"b2","m":"C","x":167,"y":0.2},{"p":"b2","m":"C","x":170,"y":0.13},{"p":"b2","m":"C","x":173,"y":0.19},{"p":"b2","m":"C","x":176,"y":0.14},{"p":"b2","m":"C","x":179,"y":0.2},{"p":"b2","m":"C","x":182,"y":0.12},{"p":"b2","m":"C","x":185,"y":0.18},{"p":"b2","m":"C","x":188,"y":0.15},{"p":"b2","m":"C","x":191,"y":0.2},{"p":"b2","m":"C","x":194,"y":0.13},{"p":"b2","m":"C","x":197,"y":0.19},{"p":"b2","m":"C","x":200,"y":0.14},{"p":"b2","m":"C","x":203,"y":0.2},{"p":"b2","m":"C","x":206,"y":0.12},{"p":"b2","m":"C","x":209,"y":0.19},{"p":"b2","m":"C","x":212,"y":0.15},{"p":"b2","m":"C","x":215,"y":0.2},{"p":"b2","m":"C","x":218,"y":0.13},{"p":"b2","m":"C","x":221,"y":0.19},{"p":"b2","m":"C","x":224,"y":0.14},{"p":"b2","m":"C","x":227,"y":0.2},{"p":"b2","m":"C","x":230,"y":0.12},{"p":"b2","m":"C","x":233,"y":0.18},{"p":"b2","m":"C","x":236,"y":0.14},{"p":"b2","m":"C","x":239,"y":0.2},{"p":"b2","m":"C","x":242,"y":0.13},{"p":"b2","m":"C","x":245,"y":0.19},{"p":"b2","m":"C","x":248,"y":0.15},{"p":"b2","m":"C","x":251,"y":0.2},{"p":"b2","m":"C","x":254,"y":0.12},{"p":"b2","m":"C","x":257,"y":0.19},{"p":"b2","m":"C","x":260,"y":0.14},{"p":"b2","m":"C","x":263,"y":0.2},{"p":"b2","m":"C","x":266,"y":0.13},{"p":"b2","m":"C","x":269,"y":0.19},{"p":"b2","m":"C","x":272,"y":0.15},{"p":"b2","m":"C","x":275,"y":0.2},{"p":"b2","m":"C","x":278,"y":0.12},{"p":"b2","m":"C","x":281,"y":0.19},{"p":"b2","m":"C","x":284,"y":0.14},{"p":"b2","m":"C","x":287,"y":0.2},{"p":"b2","m":"C","x":290,"y":0.13},{"p":"b2","m":"C","x":293,"y":0.19},{"p":"b2","m":"C","x":296,"y":0.15},{"p":"b2","m":"C","x":300,"y":0.19},
{"p":"b2","m":"Z","x":0,"y":0},{"p":"b2","m":"Z","x":2,"y":0.04},{"p":"b2","m":"Z","x":4,"y":0},{"p":"b2","m":"Z","x":30,"y":0},{"p":"b2","m":"Z","x":32,"y":0.05},{"p":"b2","m":"Z","x":34,"y":0.09},{"p":"b2","m":"Z","x":36,"y":0.06},{"p":"b2","m":"Z","x":38,"y":0},{"p":"b2","m":"Z","x":50,"y":0},{"p":"b2","m":"Z","x":51,"y":0.09},{"p":"b2","m":"Z","x":52,"y":0.02},{"p":"b2","m":"Z","x":58,"y":0},{"p":"b2","m":"Z","x":60,"y":0.06},{"p":"b2","m":"Z","x":65,"y":0.06},{"p":"b2","m":"Z","x":67,"y":0},{"p":"b2","m":"Z","x":75,"y":0},{"p":"b2","m":"Z","x":77,"y":0.02},{"p":"b2","m":"Z","x":80,"y":0},{"p":"b2","m":"Z","x":88,"y":0.05},{"p":"b2","m":"Z","x":92,"y":0.14},{"p":"b2","m":"Z","x":94,"y":0.1},{"p":"b2","m":"Z","x":96,"y":0.13},{"p":"b2","m":"Z","x":98,"y":0.07},{"p":"b2","m":"Z","x":100,"y":0.1},{"p":"b2","m":"Z","x":102,"y":0.03},{"p":"b2","m":"Z","x":104,"y":0},{"p":"b2","m":"Z","x":112,"y":0},{"p":"b2","m":"Z","x":113,"y":0.04},{"p":"b2","m":"Z","x":114,"y":0},{"p":"b2","m":"Z","x":123,"y":0},{"p":"b2","m":"Z","x":124,"y":0.06},{"p":"b2","m":"Z","x":125,"y":0},{"p":"b2","m":"Z","x":128,"y":0.05},{"p":"b2","m":"Z","x":129,"y":0},{"p":"b2","m":"Z","x":140,"y":0},{"p":"b2","m":"Z","x":141,"y":0.04},{"p":"b2","m":"Z","x":142,"y":0},{"p":"b2","m":"Z","x":160,"y":0},{"p":"b2","m":"Z","x":162,"y":0.04},{"p":"b2","m":"Z","x":163,"y":0},{"p":"b2","m":"Z","x":180,"y":0},{"p":"b2","m":"Z","x":181,"y":0.09},{"p":"b2","m":"Z","x":182,"y":0.02},{"p":"b2","m":"Z","x":186,"y":0.04},{"p":"b2","m":"Z","x":188,"y":0},{"p":"b2","m":"Z","x":300,"y":0},
{"p":"c1","m":"L","x":0,"y":0.02},{"p":"c1","m":"L","x":3,"y":0.45},{"p":"c1","m":"L","x":5,"y":1},{"p":"c1","m":"L","x":300,"y":1},
{"p":"c1","m":"S","x":1,"y":0.02},{"p":"c1","m":"S","x":2,"y":0.41},{"p":"c1","m":"S","x":4,"y":0.54},{"p":"c1","m":"S","x":7,"y":0.58},{"p":"c1","m":"S","x":9,"y":0.595},{"p":"c1","m":"S","x":12,"y":0.54},{"p":"c1","m":"S","x":16,"y":0.5},{"p":"c1","m":"S","x":18,"y":0.52},{"p":"c1","m":"S","x":20,"y":0.56},{"p":"c1","m":"S","x":22,"y":0.67},{"p":"c1","m":"S","x":24,"y":0.74},{"p":"c1","m":"S","x":28,"y":0.78},{"p":"c1","m":"S","x":30,"y":0.85},{"p":"c1","m":"S","x":33,"y":0.89},{"p":"c1","m":"S","x":37,"y":0.93},{"p":"c1","m":"S","x":40,"y":0.97},{"p":"c1","m":"S","x":45,"y":0.99},{"p":"c1","m":"S","x":51,"y":0.995},{"p":"c1","m":"S","x":60,"y":1},{"p":"c1","m":"S","x":169,"y":1},{"p":"c1","m":"S","x":170,"y":0.97},{"p":"c1","m":"S","x":171,"y":1},{"p":"c1","m":"S","x":300,"y":1},
{"p":"c1","m":"P","x":0,"y":0.02},{"p":"c1","m":"P","x":2,"y":0.6},{"p":"c1","m":"P","x":4,"y":0.95},{"p":"c1","m":"P","x":6,"y":1},{"p":"c1","m":"P","x":177,"y":1},{"p":"c1","m":"P","x":178,"y":0.96},{"p":"c1","m":"P","x":179,"y":1},{"p":"c1","m":"P","x":300,"y":1},
{"p":"c1","m":"C","x":0,"y":0.02},{"p":"c1","m":"C","x":2,"y":1},{"p":"c1","m":"C","x":12,"y":0.98},{"p":"c1","m":"C","x":14,"y":1},{"p":"c1","m":"C","x":30,"y":0.985},{"p":"c1","m":"C","x":32,"y":1},{"p":"c1","m":"C","x":45,"y":0.96},{"p":"c1","m":"C","x":47,"y":1},{"p":"c1","m":"C","x":300,"y":1},
{"p":"c2","m":"L","x":0,"y":0.03},{"p":"c2","m":"L","x":2,"y":0.04},{"p":"c2","m":"L","x":4,"y":0.44},{"p":"c2","m":"L","x":5,"y":0.33},{"p":"c2","m":"L","x":7,"y":0.62},{"p":"c2","m":"L","x":8,"y":0.84},{"p":"c2","m":"L","x":9,"y":0.97},{"p":"c2","m":"L","x":11,"y":0.93},{"p":"c2","m":"L","x":12,"y":1},{"p":"c2","m":"L","x":300,"y":1},
{"p":"c2","m":"S","x":1,"y":0.01},{"p":"c2","m":"S","x":3,"y":0.3},{"p":"c2","m":"S","x":6,"y":0.31},{"p":"c2","m":"S","x":12,"y":0.33},{"p":"c2","m":"S","x":16,"y":0.33},{"p":"c2","m":"S","x":19,"y":0.29},{"p":"c2","m":"S","x":23,"y":0.23},{"p":"c2","m":"S","x":26,"y":0.21},{"p":"c2","m":"S","x":30,"y":0.165},{"p":"c2","m":"S","x":33,"y":0.13},{"p":"c2","m":"S","x":37,"y":0.105},{"p":"c2","m":"S","x":40,"y":0.08},{"p":"c2","m":"S","x":44,"y":0.066},{"p":"c2","m":"S","x":51,"y":0.055},{"p":"c2","m":"S","x":68,"y":0.048},{"p":"c2","m":"S","x":103,"y":0.044},{"p":"c2","m":"S","x":150,"y":0.042},{"p":"c2","m":"S","x":200,"y":0.04},{"p":"c2","m":"S","x":250,"y":0.04},{"p":"c2","m":"S","x":300,"y":0.04},
{"p":"c2","m":"P","x":0,"y":0.04},{"p":"c2","m":"P","x":2,"y":0.41},{"p":"c2","m":"P","x":3,"y":0.1},{"p":"c2","m":"P","x":5,"y":0.04},{"p":"c2","m":"P","x":9,"y":0.066},{"p":"c2","m":"P","x":11,"y":0.26},{"p":"c2","m":"P","x":13,"y":0.09},{"p":"c2","m":"P","x":15,"y":0.35},{"p":"c2","m":"P","x":16,"y":0.2},{"p":"c2","m":"P","x":18,"y":0.44},{"p":"c2","m":"P","x":20,"y":0.26},{"p":"c2","m":"P","x":22,"y":0.53},{"p":"c2","m":"P","x":24,"y":0.31},{"p":"c2","m":"P","x":25,"y":0.48},{"p":"c2","m":"P","x":28,"y":0.46},{"p":"c2","m":"P","x":30,"y":0.57},{"p":"c2","m":"P","x":32,"y":0.51},{"p":"c2","m":"P","x":34,"y":0.62},{"p":"c2","m":"P","x":36,"y":0.57},{"p":"c2","m":"P","x":38,"y":0.66},{"p":"c2","m":"P","x":40,"y":0.55},{"p":"c2","m":"P","x":43,"y":0.68},{"p":"c2","m":"P","x":45,"y":0.62},{"p":"c2","m":"P","x":47,"y":0.64},{"p":"c2","m":"P","x":51,"y":0.51},{"p":"c2","m":"P","x":52,"y":0.66},{"p":"c2","m":"P","x":55,"y":0.725},{"p":"c2","m":"P","x":58,"y":0.77},{"p":"c2","m":"P","x":60,"y":0.7},{"p":"c2","m":"P","x":63,"y":0.79},{"p":"c2","m":"P","x":66,"y":0.75},{"p":"c2","m":"P","x":70,"y":0.8},{"p":"c2","m":"P","x":73,"y":0.81},{"p":"c2","m":"P","x":77,"y":0.74},{"p":"c2","m":"P","x":78,"y":0.81},{"p":"c2","m":"P","x":84,"y":0.8},{"p":"c2","m":"P","x":89,"y":0.79},{"p":"c2","m":"P","x":94,"y":0.75},{"p":"c2","m":"P","x":98,"y":0.78},{"p":"c2","m":"P","x":101,"y":0.76},{"p":"c2","m":"P","x":105,"y":0.8},{"p":"c2","m":"P","x":110,"y":0.81},{"p":"c2","m":"P","x":176,"y":0.81},{"p":"c2","m":"P","x":178,"y":0.78},{"p":"c2","m":"P","x":180,"y":0.81},{"p":"c2","m":"P","x":300,"y":0.807},
{"p":"c2","m":"C","x":0,"y":0.04},{"p":"c2","m":"C","x":16,"y":0.045},{"p":"c2","m":"C","x":30,"y":0.05},{"p":"c2","m":"C","x":40,"y":0.055},{"p":"c2","m":"C","x":44,"y":0.07},{"p":"c2","m":"C","x":50,"y":0.06},{"p":"c2","m":"C","x":68,"y":0.066},{"p":"c2","m":"C","x":85,"y":0.058},{"p":"c2","m":"C","x":103,"y":0.06},{"p":"c2","m":"C","x":113,"y":0.073},{"p":"c2","m":"C","x":120,"y":0.06},{"p":"c2","m":"C","x":138,"y":0.07},{"p":"c2","m":"C","x":155,"y":0.06},{"p":"c2","m":"C","x":172,"y":0.055},{"p":"c2","m":"C","x":190,"y":0.06},{"p":"c2","m":"C","x":207,"y":0.062},{"p":"c2","m":"C","x":224,"y":0.07},{"p":"c2","m":"C","x":240,"y":0.062},{"p":"c2","m":"C","x":260,"y":0.066},{"p":"c2","m":"C","x":300,"y":0.066},
{"p":"d1","m":"L","x":0,"y":0},{"p":"d1","m":"L","x":2,"y":0.3},{"p":"d1","m":"L","x":3,"y":0.75},{"p":"d1","m":"L","x":5,"y":0.9},{"p":"d1","m":"L","x":8,"y":0.97},{"p":"d1","m":"L","x":12,"y":0.99},{"p":"d1","m":"L","x":20,"y":1},{"p":"d1","m":"L","x":300,"y":1},
{"p":"d1","m":"S","x":0,"y":0},{"p":"d1","m":"S","x":3.5,"y":0.18},{"p":"d1","m":"S","x":5,"y":0.24},{"p":"d1","m":"S","x":7,"y":0.4},{"p":"d1","m":"S","x":9,"y":0.46},{"p":"d1","m":"S","x":10,"y":0.47},{"p":"d1","m":"S","x":12,"y":0.53},{"p":"d1","m":"S","x":16,"y":0.62},{"p":"d1","m":"S","x":19,"y":0.68},{"p":"d1","m":"S","x":23,"y":0.73},{"p":"d1","m":"S","x":26,"y":0.76},{"p":"d1","m":"S","x":30,"y":0.79},{"p":"d1","m":"S","x":37,"y":0.8},{"p":"d1","m":"S","x":44,"y":0.83},{"p":"d1","m":"S","x":51,"y":0.87},{"p":"d1","m":"S","x":58,"y":0.91},{"p":"d1","m":"S","x":64,"y":0.94},{"p":"d1","m":"S","x":65,"y":0.89},{"p":"d1","m":"S","x":66,"y":0.94},{"p":"d1","m":"S","x":75,"y":0.956},{"p":"d1","m":"S","x":85,"y":0.963},{"p":"d1","m":"S","x":92,"y":0.97},{"p":"d1","m":"S","x":99,"y":0.967},{"p":"d1","m":"S","x":117,"y":0.978},{"p":"d1","m":"S","x":134,"y":0.985},{"p":"d1","m":"S","x":150,"y":0.982},{"p":"d1","m":"S","x":171,"y":0.99},{"p":"d1","m":"S","x":172,"y":0.9},{"p":"d1","m":"S","x":173,"y":0.99},{"p":"d1","m":"S","x":200,"y":0.982},{"p":"d1","m":"S","x":235,"y":0.978},{"p":"d1","m":"S","x":270,"y":0.985},{"p":"d1","m":"S","x":300,"y":0.985},
{"p":"d1","m":"P","x":0,"y":0},{"p":"d1","m":"P","x":3.5,"y":0.57},{"p":"d1","m":"P","x":5,"y":0.86},{"p":"d1","m":"P","x":9,"y":0.956},{"p":"d1","m":"P","x":16,"y":0.985},{"p":"d1","m":"P","x":30,"y":0.99},{"p":"d1","m":"P","x":99,"y":0.995},{"p":"d1","m":"P","x":300,"y":1},
{"p":"d1","m":"C","x":0,"y":0},{"p":"d1","m":"C","x":2,"y":1},{"p":"d1","m":"C","x":300,"y":1},
{"p":"d1","m":"Z","x":0,"y":0},{"p":"d1","m":"Z","x":1,"y":0.7},{"p":"d1","m":"Z","x":2.5,"y":0.72},{"p":"d1","m":"Z","x":5,"y":0.79},{"p":"d1","m":"Z","x":7,"y":0.88},{"p":"d1","m":"Z","x":8,"y":0.92},{"p":"d1","m":"Z","x":10,"y":0.98},{"p":"d1","m":"Z","x":16,"y":0.998},{"p":"d1","m":"Z","x":300,"y":1},
{"p":"d2","m":"L","x":0,"y":0},{"p":"d2","m":"L","x":4,"y":0.01},{"p":"d2","m":"L","x":7,"y":0.06},{"p":"d2","m":"L","x":10,"y":0.19},{"p":"d2","m":"L","x":13,"y":0.3},{"p":"d2","m":"L","x":16,"y":0.385},{"p":"d2","m":"L","x":18,"y":0.47},{"p":"d2","m":"L","x":20,"y":0.45},{"p":"d2","m":"L","x":23,"y":0.515},{"p":"d2","m":"L","x":26,"y":0.54},{"p":"d2","m":"L","x":29,"y":0.49},{"p":"d2","m":"L","x":31,"y":0.6},{"p":"d2","m":"L","x":34,"y":0.58},{"p":"d2","m":"L","x":37,"y":0.67},{"p":"d2","m":"L","x":39,"y":0.62},{"p":"d2","m":"L","x":42,"y":0.7},{"p":"d2","m":"L","x":44,"y":0.66},{"p":"d2","m":"L","x":47,"y":0.69},{"p":"d2","m":"L","x":50,"y":0.776},{"p":"d2","m":"L","x":52,"y":0.69},{"p":"d2","m":"L","x":55,"y":0.754},{"p":"d2","m":"L","x":58,"y":0.8},{"p":"d2","m":"L","x":60,"y":0.73},{"p":"d2","m":"L","x":63,"y":0.765},{"p":"d2","m":"L","x":66,"y":0.86},{"p":"d2","m":"L","x":68,"y":0.776},{"p":"d2","m":"L","x":71,"y":0.82},{"p":"d2","m":"L","x":73,"y":0.8},{"p":"d2","m":"L","x":76,"y":0.765},{"p":"d2","m":"L","x":78,"y":0.82},{"p":"d2","m":"L","x":81,"y":0.8},{"p":"d2","m":"L","x":84,"y":0.83},{"p":"d2","m":"L","x":86,"y":0.81},{"p":"d2","m":"L","x":89,"y":0.846},{"p":"d2","m":"L","x":92,"y":0.81},{"p":"d2","m":"L","x":94,"y":0.84},{"p":"d2","m":"L","x":97,"y":0.82},{"p":"d2","m":"L","x":99,"y":0.8},{"p":"d2","m":"L","x":103,"y":0.754},{"p":"d2","m":"L","x":106,"y":0.69},{"p":"d2","m":"L","x":108,"y":0.73},{"p":"d2","m":"L","x":111,"y":0.68},{"p":"d2","m":"L","x":113,"y":0.72},{"p":"d2","m":"L","x":117,"y":0.71},{"p":"d2","m":"L","x":120,"y":0.8},{"p":"d2","m":"L","x":123,"y":0.85},{"p":"d2","m":"L","x":126,"y":0.81},{"p":"d2","m":"L","x":128,"y":0.8},{"p":"d2","m":"L","x":131,"y":0.82},{"p":"d2","m":"L","x":134,"y":0.79},{"p":"d2","m":"L","x":138,"y":0.82},{"p":"d2","m":"L","x":141,"y":0.765},{"p":"d2","m":"L","x":145,"y":0.8},{"p":"d2","m":"L","x":148,"y":0.776},{"p":"d2","m":"L","x":152,"y":0.754},{"p":"d2","m":"L","x":155,"y":0.8},{"p":"d2","m":"L","x":159,"y":0.765},{"p":"d2","m":"L","x":162,"y":0.74},{"p":"d2","m":"L","x":166,"y":0.79},{"p":"d2","m":"L","x":169,"y":0.754},{"p":"d2","m":"L","x":173,"y":0.776},{"p":"d2","m":"L","x":176,"y":0.74},{"p":"d2","m":"L","x":180,"y":0.78},{"p":"d2","m":"L","x":183,"y":0.8},{"p":"d2","m":"L","x":187,"y":0.765},{"p":"d2","m":"L","x":190,"y":0.754},{"p":"d2","m":"L","x":194,"y":0.79},{"p":"d2","m":"L","x":197,"y":0.72},{"p":"d2","m":"L","x":201,"y":0.765},{"p":"d2","m":"L","x":204,"y":0.8},{"p":"d2","m":"L","x":208,"y":0.776},{"p":"d2","m":"L","x":211,"y":0.8},{"p":"d2","m":"L","x":215,"y":0.765},{"p":"d2","m":"L","x":218,"y":0.776},{"p":"d2","m":"L","x":222,"y":0.79},{"p":"d2","m":"L","x":225,"y":0.74},{"p":"d2","m":"L","x":229,"y":0.776},{"p":"d2","m":"L","x":232,"y":0.74},{"p":"d2","m":"L","x":236,"y":0.71},{"p":"d2","m":"L","x":239,"y":0.74},{"p":"d2","m":"L","x":243,"y":0.765},{"p":"d2","m":"L","x":246,"y":0.74},{"p":"d2","m":"L","x":249,"y":0.72},{"p":"d2","m":"L","x":255,"y":0.73},{"p":"d2","m":"L","x":260,"y":0.74},{"p":"d2","m":"L","x":267,"y":0.75},{"p":"d2","m":"L","x":274,"y":0.745},{"p":"d2","m":"L","x":284,"y":0.745},{"p":"d2","m":"L","x":300,"y":0.745},
{"p":"d2","m":"S","x":0,"y":0},{"p":"d2","m":"S","x":3.5,"y":0.1},{"p":"d2","m":"S","x":5,"y":0.19},{"p":"d2","m":"S","x":9,"y":0.23},{"p":"d2","m":"S","x":12,"y":0.265},{"p":"d2","m":"S","x":16,"y":0.3},{"p":"d2","m":"S","x":17,"y":0.47},{"p":"d2","m":"S","x":20,"y":0.515},{"p":"d2","m":"S","x":23,"y":0.58},{"p":"d2","m":"S","x":26,"y":0.62},{"p":"d2","m":"S","x":30,"y":0.66},{"p":"d2","m":"S","x":35,"y":0.67},{"p":"d2","m":"S","x":40,"y":0.68},{"p":"d2","m":"S","x":45,"y":0.69},{"p":"d2","m":"S","x":51,"y":0.73},{"p":"d2","m":"S","x":56,"y":0.765},{"p":"d2","m":"S","x":61,"y":0.74},{"p":"d2","m":"S","x":66,"y":0.68},{"p":"d2","m":"S","x":70,"y":0.776},{"p":"d2","m":"S","x":73,"y":0.74},{"p":"d2","m":"S","x":78,"y":0.8},{"p":"d2","m":"S","x":84,"y":0.765},{"p":"d2","m":"S","x":89,"y":0.754},{"p":"d2","m":"S","x":94,"y":0.79},{"p":"d2","m":"S","x":99,"y":0.765},{"p":"d2","m":"S","x":105,"y":0.776},{"p":"d2","m":"S","x":108,"y":0.81},{"p":"d2","m":"S","x":113,"y":0.79},{"p":"d2","m":"S","x":119,"y":0.82},{"p":"d2","m":"S","x":124,"y":0.8},{"p":"d2","m":"S","x":129,"y":0.82},{"p":"d2","m":"S","x":134,"y":0.83},{"p":"d2","m":"S","x":140,"y":0.79},{"p":"d2","m":"S","x":145,"y":0.82},{"p":"d2","m":"S","x":150,"y":0.8},{"p":"d2","m":"S","x":155,"y":0.82},{"p":"d2","m":"S","x":160,"y":0.83},{"p":"d2","m":"S","x":164,"y":0.765},{"p":"d2","m":"S","x":166,"y":0.82},{"p":"d2","m":"S","x":171,"y":0.81},{"p":"d2","m":"S","x":176,"y":0.82},{"p":"d2","m":"S","x":181,"y":0.8},{"p":"d2","m":"S","x":187,"y":0.82},{"p":"d2","m":"S","x":192,"y":0.8},{"p":"d2","m":"S","x":197,"y":0.82},{"p":"d2","m":"S","x":202,"y":0.81},{"p":"d2","m":"S","x":208,"y":0.8},{"p":"d2","m":"S","x":213,"y":0.82},{"p":"d2","m":"S","x":218,"y":0.83},{"p":"d2","m":"S","x":223,"y":0.81},{"p":"d2","m":"S","x":229,"y":0.8},{"p":"d2","m":"S","x":234,"y":0.82},{"p":"d2","m":"S","x":239,"y":0.79},{"p":"d2","m":"S","x":244,"y":0.8},{"p":"d2","m":"S","x":249,"y":0.82},{"p":"d2","m":"S","x":255,"y":0.81},{"p":"d2","m":"S","x":260,"y":0.82},{"p":"d2","m":"S","x":267,"y":0.825},{"p":"d2","m":"S","x":274,"y":0.83},{"p":"d2","m":"S","x":281,"y":0.84},{"p":"d2","m":"S","x":288,"y":0.837},{"p":"d2","m":"S","x":300,"y":0.835},
{"p":"d2","m":"P","x":0,"y":0},{"p":"d2","m":"P","x":3,"y":0},{"p":"d2","m":"P","x":3.5,"y":0.1},{"p":"d2","m":"P","x":5,"y":0.17},{"p":"d2","m":"P","x":7,"y":0.04},{"p":"d2","m":"P","x":10,"y":0.026},{"p":"d2","m":"P","x":16,"y":0.026},{"p":"d2","m":"P","x":19,"y":0.05},{"p":"d2","m":"P","x":23,"y":0.06},{"p":"d2","m":"P","x":24,"y":0.09},{"p":"d2","m":"P","x":27,"y":0.05},{"p":"d2","m":"P","x":30,"y":0.08},{"p":"d2","m":"P","x":32,"y":0.1},{"p":"d2","m":"P","x":35,"y":0.06},{"p":"d2","m":"P","x":37,"y":0.12},{"p":"d2","m":"P","x":40,"y":0.08},{"p":"d2","m":"P","x":44,"y":0.1},{"p":"d2","m":"P","x":47,"y":0.09},{"p":"d2","m":"P","x":50,"y":0.135},{"p":"d2","m":"P","x":52,"y":0.22},{"p":"d2","m":"P","x":54,"y":0.12},{"p":"d2","m":"P","x":58,"y":0.11},{"p":"d2","m":"P","x":61,"y":0.135},{"p":"d2","m":"P","x":65,"y":0.12},{"p":"d2","m":"P","x":68,"y":0.17},{"p":"d2","m":"P","x":72,"y":0.19},{"p":"d2","m":"P","x":75,"y":0.146},{"p":"d2","m":"P","x":78,"y":0.21},{"p":"d2","m":"P","x":82,"y":0.157},{"p":"d2","m":"P","x":85,"y":0.23},{"p":"d2","m":"P","x":88,"y":0.167},{"p":"d2","m":"P","x":91,"y":0.33},{"p":"d2","m":"P","x":93,"y":0.19},{"p":"d2","m":"P","x":96,"y":0.25},{"p":"d2","m":"P","x":99,"y":0.19},{"p":"d2","m":"P","x":101,"y":0.23},{"p":"d2","m":"P","x":104,"y":0.167},{"p":"d2","m":"P","x":106,"y":0.3},{"p":"d2","m":"P","x":108,"y":0.21},{"p":"d2","m":"P","x":112,"y":0.23},{"p":"d2","m":"P","x":115,"y":0.19},{"p":"d2","m":"P","x":119,"y":0.25},{"p":"d2","m":"P","x":122,"y":0.21},{"p":"d2","m":"P","x":126,"y":0.19},{"p":"d2","m":"P","x":129,"y":0.287},{"p":"d2","m":"P","x":133,"y":0.25},{"p":"d2","m":"P","x":136,"y":0.21},{"p":"d2","m":"P","x":140,"y":0.24},{"p":"d2","m":"P","x":143,"y":0.19},{"p":"d2","m":"P","x":147,"y":0.167},{"p":"d2","m":"P","x":150,"y":0.21},{"p":"d2","m":"P","x":154,"y":0.146},{"p":"d2","m":"P","x":157,"y":0.19},{"p":"d2","m":"P","x":161,"y":0.167},{"p":"d2","m":"P","x":164,"y":0.21},{"p":"d2","m":"P","x":168,"y":0.23},{"p":"d2","m":"P","x":171,"y":0.19},{"p":"d2","m":"P","x":174,"y":0.21},{"p":"d2","m":"P","x":178,"y":0.167},{"p":"d2","m":"P","x":181,"y":0.1},{"p":"d2","m":"P","x":185,"y":0.146},{"p":"d2","m":"P","x":188,"y":0.178},{"p":"d2","m":"P","x":192,"y":0.157},{"p":"d2","m":"P","x":195,"y":0.19},{"p":"d2","m":"P","x":199,"y":0.167},{"p":"d2","m":"P","x":202,"y":0.21},{"p":"d2","m":"P","x":206,"y":0.24},{"p":"d2","m":"P","x":209,"y":0.21},{"p":"d2","m":"P","x":212,"y":0.25},{"p":"d2","m":"P","x":216,"y":0.23},{"p":"d2","m":"P","x":218,"y":0.276},{"p":"d2","m":"P","x":222,"y":0.21},{"p":"d2","m":"P","x":225,"y":0.23},{"p":"d2","m":"P","x":229,"y":0.2},{"p":"d2","m":"P","x":232,"y":0.21},{"p":"d2","m":"P","x":236,"y":0.19},{"p":"d2","m":"P","x":239,"y":0.2},{"p":"d2","m":"P","x":242,"y":0.146},{"p":"d2","m":"P","x":246,"y":0.1},{"p":"d2","m":"P","x":249,"y":0.146},{"p":"d2","m":"P","x":253,"y":0.167},{"p":"d2","m":"P","x":256,"y":0.19},{"p":"d2","m":"P","x":260,"y":0.167},{"p":"d2","m":"P","x":265,"y":0.135},{"p":"d2","m":"P","x":270,"y":0.12},{"p":"d2","m":"P","x":277,"y":0.12},{"p":"d2","m":"P","x":284,"y":0.128},{"p":"d2","m":"P","x":291,"y":0.14},{"p":"d2","m":"P","x":300,"y":0.14},
{"p":"d2","m":"C","x":0,"y":0},{"p":"d2","m":"C","x":1,"y":0.85},{"p":"d2","m":"C","x":2,"y":0.917},{"p":"d2","m":"C","x":3.5,"y":0.84},{"p":"d2","m":"C","x":5,"y":0.69},{"p":"d2","m":"C","x":8,"y":0.66},{"p":"d2","m":"C","x":10,"y":0.6},{"p":"d2","m":"C","x":14,"y":0.61},{"p":"d2","m":"C","x":19,"y":0.6},{"p":"d2","m":"C","x":30,"y":0.57},{"p":"d2","m":"C","x":44,"y":0.55},{"p":"d2","m":"C","x":65,"y":0.526},{"p":"d2","m":"C","x":99,"y":0.515},{"p":"d2","m":"C","x":150,"y":0.513},{"p":"d2","m":"C","x":300,"y":0.51},
{"p":"d2","m":"Z","x":0,"y":0},{"p":"d2","m":"Z","x":1,"y":0.56},{"p":"d2","m":"Z","x":2.5,"y":0.47},{"p":"d2","m":"Z","x":4.5,"y":0.43},{"p":"d2","m":"Z","x":7,"y":0.54},{"p":"d2","m":"Z","x":9,"y":0.45},{"p":"d2","m":"Z","x":12,"y":0.56},{"p":"d2","m":"Z","x":15,"y":0.47},{"p":"d2","m":"Z","x":17,"y":0.6},{"p":"d2","m":"Z","x":20,"y":0.515},{"p":"d2","m":"Z","x":23,"y":0.6},{"p":"d2","m":"Z","x":26,"y":0.56},{"p":"d2","m":"Z","x":30,"y":0.62},{"p":"d2","m":"Z","x":33,"y":0.58},{"p":"d2","m":"Z","x":36,"y":0.62},{"p":"d2","m":"Z","x":39,"y":0.66},{"p":"d2","m":"Z","x":42,"y":0.6},{"p":"d2","m":"Z","x":44,"y":0.56},{"p":"d2","m":"Z","x":47,"y":0.45},{"p":"d2","m":"Z","x":50,"y":0.49},{"p":"d2","m":"Z","x":52,"y":0.62},{"p":"d2","m":"Z","x":55,"y":0.56},{"p":"d2","m":"Z","x":58,"y":0.58},{"p":"d2","m":"Z","x":61,"y":0.515},{"p":"d2","m":"Z","x":65,"y":0.55},{"p":"d2","m":"Z","x":68,"y":0.526},{"p":"d2","m":"Z","x":72,"y":0.58},{"p":"d2","m":"Z","x":75,"y":0.537},{"p":"d2","m":"Z","x":78,"y":0.57},{"p":"d2","m":"Z","x":82,"y":0.515},{"p":"d2","m":"Z","x":85,"y":0.58},{"p":"d2","m":"Z","x":89,"y":0.537},{"p":"d2","m":"Z","x":92,"y":0.55},{"p":"d2","m":"Z","x":96,"y":0.49},{"p":"d2","m":"Z","x":99,"y":0.47},{"p":"d2","m":"Z","x":101,"y":0.56},{"p":"d2","m":"Z","x":105,"y":0.537},{"p":"d2","m":"Z","x":108,"y":0.57},{"p":"d2","m":"Z","x":112,"y":0.55},{"p":"d2","m":"Z","x":115,"y":0.58},{"p":"d2","m":"Z","x":119,"y":0.537},{"p":"d2","m":"Z","x":122,"y":0.6},{"p":"d2","m":"Z","x":126,"y":0.57},{"p":"d2","m":"Z","x":129,"y":0.6},{"p":"d2","m":"Z","x":133,"y":0.58},{"p":"d2","m":"Z","x":136,"y":0.56},{"p":"d2","m":"Z","x":140,"y":0.515},{"p":"d2","m":"Z","x":142,"y":0.667},{"p":"d2","m":"Z","x":145,"y":0.58},{"p":"d2","m":"Z","x":148,"y":0.62},{"p":"d2","m":"Z","x":152,"y":0.59},{"p":"d2","m":"Z","x":155,"y":0.58},{"p":"d2","m":"Z","x":159,"y":0.56},{"p":"d2","m":"Z","x":162,"y":0.55},{"p":"d2","m":"Z","x":166,"y":0.49},{"p":"d2","m":"Z","x":169,"y":0.5},{"p":"d2","m":"Z","x":173,"y":0.526},{"p":"d2","m":"Z","x":176,"y":0.55},{"p":"d2","m":"Z","x":180,"y":0.57},{"p":"d2","m":"Z","x":183,"y":0.58},{"p":"d2","m":"Z","x":187,"y":0.57},{"p":"d2","m":"Z","x":190,"y":0.58},{"p":"d2","m":"Z","x":194,"y":0.6},{"p":"d2","m":"Z","x":197,"y":0.58},{"p":"d2","m":"Z","x":201,"y":0.59},{"p":"d2","m":"Z","x":204,"y":0.62},{"p":"d2","m":"Z","x":208,"y":0.646},{"p":"d2","m":"Z","x":211,"y":0.6},{"p":"d2","m":"Z","x":215,"y":0.58},{"p":"d2","m":"Z","x":218,"y":0.62},{"p":"d2","m":"Z","x":222,"y":0.58},{"p":"d2","m":"Z","x":225,"y":0.6},{"p":"d2","m":"Z","x":229,"y":0.56},{"p":"d2","m":"Z","x":232,"y":0.537},{"p":"d2","m":"Z","x":236,"y":0.635},{"p":"d2","m":"Z","x":239,"y":0.6},{"p":"d2","m":"Z","x":243,"y":0.58},{"p":"d2","m":"Z","x":246,"y":0.607},{"p":"d2","m":"Z","x":249,"y":0.61},{"p":"d2","m":"Z","x":256,"y":0.624},{"p":"d2","m":"Z","x":263,"y":0.62},{"p":"d2","m":"Z","x":270,"y":0.61},{"p":"d2","m":"Z","x":277,"y":0.607},{"p":"d2","m":"Z","x":288,"y":0.593},{"p":"d2","m":"Z","x":300,"y":0.593},
{"p":"e1","m":"L","x":0,"y":0.49},{"p":"e1","m":"L","x":1,"y":0.72},{"p":"e1","m":"L","x":2,"y":0.994},{"p":"e1","m":"L","x":3.5,"y":1},{"p":"e1","m":"L","x":67,"y":1},{"p":"e1","m":"L","x":68,"y":0.994},{"p":"e1","m":"L","x":69,"y":1},{"p":"e1","m":"L","x":200,"y":1},
{"p":"e1","m":"C","x":0,"y":0.49},{"p":"e1","m":"C","x":1,"y":0.7},{"p":"e1","m":"C","x":2,"y":0.99},{"p":"e1","m":"C","x":3,"y":1},{"p":"e1","m":"C","x":14,"y":0.998},{"p":"e1","m":"C","x":14.5,"y":0.98},{"p":"e1","m":"C","x":15,"y":0.93},{"p":"e1","m":"C","x":16,"y":0.8},{"p":"e1","m":"C","x":17,"y":0.89},{"p":"e1","m":"C","x":19,"y":0.89},{"p":"e1","m":"C","x":21,"y":0.887},{"p":"e1","m":"C","x":23,"y":0.89},{"p":"e1","m":"C","x":25,"y":0.88},{"p":"e1","m":"C","x":26,"y":0.824},{"p":"e1","m":"C","x":27.5,"y":0.756},{"p":"e1","m":"C","x":28,"y":0.72},{"p":"e1","m":"C","x":30,"y":0.756},{"p":"e1","m":"C","x":31.5,"y":0.8},{"p":"e1","m":"C","x":33,"y":0.81},{"p":"e1","m":"C","x":34.5,"y":0.756},{"p":"e1","m":"C","x":35.5,"y":0.83},{"p":"e1","m":"C","x":37,"y":0.79},{"p":"e1","m":"C","x":38.5,"y":0.78},{"p":"e1","m":"C","x":40,"y":0.79},{"p":"e1","m":"C","x":41,"y":0.807},{"p":"e1","m":"C","x":42,"y":0.81},{"p":"e1","m":"C","x":44,"y":0.824},{"p":"e1","m":"C","x":48,"y":0.83},{"p":"e1","m":"C","x":51,"y":0.836},{"p":"e1","m":"C","x":56,"y":0.83},{"p":"e1","m":"C","x":62,"y":0.83},{"p":"e1","m":"C","x":68,"y":0.824},{"p":"e1","m":"C","x":72,"y":0.836},{"p":"e1","m":"C","x":79,"y":0.83},{"p":"e1","m":"C","x":91,"y":0.827},{"p":"e1","m":"C","x":103,"y":0.824},{"p":"e1","m":"C","x":114,"y":0.827},{"p":"e1","m":"C","x":124,"y":0.83},{"p":"e1","m":"C","x":128,"y":0.82},{"p":"e1","m":"C","x":133,"y":0.836},{"p":"e1","m":"C","x":138,"y":0.836},{"p":"e1","m":"C","x":142,"y":0.82},{"p":"e1","m":"C","x":149,"y":0.815},{"p":"e1","m":"C","x":156,"y":0.82},{"p":"e1","m":"C","x":163,"y":0.813},{"p":"e1","m":"C","x":170,"y":0.815},{"p":"e1","m":"C","x":180,"y":0.815},{"p":"e1","m":"C","x":189,"y":0.813},{"p":"e1","m":"C","x":200,"y":0.81},
{"p":"e1","m":"Z","x":0,"y":0.48},{"p":"e1","m":"Z","x":1,"y":0.835},{"p":"e1","m":"Z","x":2,"y":0.994},{"p":"e1","m":"Z","x":5,"y":1},{"p":"e1","m":"Z","x":13,"y":1},{"p":"e1","m":"Z","x":14,"y":0.994},{"p":"e1","m":"Z","x":16,"y":0.996},{"p":"e1","m":"Z","x":20,"y":0.983},{"p":"e1","m":"Z","x":21,"y":0.96},{"p":"e1","m":"Z","x":22,"y":0.994},{"p":"e1","m":"Z","x":23,"y":0.97},{"p":"e1","m":"Z","x":24.5,"y":0.95},{"p":"e1","m":"Z","x":25.5,"y":0.9},{"p":"e1","m":"Z","x":27,"y":0.94},{"p":"e1","m":"Z","x":28,"y":0.926},{"p":"e1","m":"Z","x":30,"y":0.904},{"p":"e1","m":"Z","x":32,"y":0.92},{"p":"e1","m":"Z","x":34,"y":0.91},{"p":"e1","m":"Z","x":35.5,"y":0.89},{"p":"e1","m":"Z","x":37,"y":0.915},{"p":"e1","m":"Z","x":39,"y":0.94},{"p":"e1","m":"Z","x":41,"y":0.94},{"p":"e1","m":"Z","x":42,"y":0.904},{"p":"e1","m":"Z","x":44,"y":0.9},{"p":"e1","m":"Z","x":48,"y":0.91},{"p":"e1","m":"Z","x":51,"y":0.9},{"p":"e1","m":"Z","x":55,"y":0.904},{"p":"e1","m":"Z","x":58,"y":0.887},{"p":"e1","m":"Z","x":61,"y":0.88},{"p":"e1","m":"Z","x":64,"y":0.89},{"p":"e1","m":"Z","x":68,"y":0.9},{"p":"e1","m":"Z","x":72,"y":0.904},{"p":"e1","m":"Z","x":77,"y":0.91},{"p":"e1","m":"Z","x":82,"y":0.89},{"p":"e1","m":"Z","x":86,"y":0.904},{"p":"e1","m":"Z","x":91,"y":0.91},{"p":"e1","m":"Z","x":96,"y":0.915},{"p":"e1","m":"Z","x":100,"y":0.92},{"p":"e1","m":"Z","x":105,"y":0.91},{"p":"e1","m":"Z","x":110,"y":0.917},{"p":"e1","m":"Z","x":114,"y":0.915},{"p":"e1","m":"Z","x":119,"y":0.917},{"p":"e1","m":"Z","x":124,"y":0.92},{"p":"e1","m":"Z","x":128,"y":0.915},{"p":"e1","m":"Z","x":133,"y":0.917},{"p":"e1","m":"Z","x":138,"y":0.91},{"p":"e1","m":"Z","x":142,"y":0.906},{"p":"e1","m":"Z","x":147,"y":0.91},{"p":"e1","m":"Z","x":150,"y":0.915},{"p":"e1","m":"Z","x":155,"y":0.917},{"p":"e1","m":"Z","x":157,"y":0.943},{"p":"e1","m":"Z","x":161,"y":0.95},{"p":"e1","m":"Z","x":168,"y":0.955},{"p":"e1","m":"Z","x":175,"y":0.963},{"p":"e1","m":"Z","x":182,"y":0.97},{"p":"e1","m":"Z","x":189,"y":0.972},{"p":"e1","m":"Z","x":200,"y":0.975},
{"p":"e2","m":"L","x":0,"y":0.5},{"p":"e2","m":"L","x":2,"y":0.215},{"p":"e2","m":"L","x":3.5,"y":0.26},{"p":"e2","m":"L","x":4.7,"y":0.3},{"p":"e2","m":"L","x":6,"y":0.33},{"p":"e2","m":"L","x":7,"y":0.3},{"p":"e2","m":"L","x":8,"y":0.55},{"p":"e2","m":"L","x":9,"y":0.48},{"p":"e2","m":"L","x":10.5,"y":0.75},{"p":"e2","m":"L","x":11,"y":0.7},{"p":"e2","m":"L","x":12,"y":0.55},{"p":"e2","m":"L","x":13.5,"y":0.84},{"p":"e2","m":"L","x":14.5,"y":0.94},{"p":"e2","m":"L","x":16,"y":0.9},{"p":"e2","m":"L","x":17,"y":0.75},{"p":"e2","m":"L","x":18,"y":0.615},{"p":"e2","m":"L","x":19,"y":0.75},{"p":"e2","m":"L","x":20.5,"y":0.94},{"p":"e2","m":"L","x":21.5,"y":0.7},{"p":"e2","m":"L","x":23,"y":0.94},{"p":"e2","m":"L","x":24,"y":0.95},{"p":"e2","m":"L","x":25,"y":0.98},{"p":"e2","m":"L","x":26,"y":0.94},{"p":"e2","m":"L","x":27.5,"y":1},{"p":"e2","m":"L","x":28.5,"y":0.93},{"p":"e2","m":"L","x":30,"y":0.9},{"p":"e2","m":"L","x":32,"y":0.95},{"p":"e2","m":"L","x":33,"y":0.89},{"p":"e2","m":"L","x":35,"y":0.915},{"p":"e2","m":"L","x":36.5,"y":0.85},{"p":"e2","m":"L","x":38,"y":0.87},{"p":"e2","m":"L","x":40,"y":0.75},{"p":"e2","m":"L","x":41,"y":0.86},{"p":"e2","m":"L","x":42.5,"y":0.827},{"p":"e2","m":"L","x":44,"y":0.905},{"p":"e2","m":"L","x":46,"y":0.84},{"p":"e2","m":"L","x":47,"y":0.88},{"p":"e2","m":"L","x":49,"y":0.93},{"p":"e2","m":"L","x":50.5,"y":0.86},{"p":"e2","m":"L","x":52,"y":0.93},{"p":"e2","m":"L","x":53.5,"y":0.98},{"p":"e2","m":"L","x":55,"y":0.84},{"p":"e2","m":"L","x":56.5,"y":0.95},{"p":"e2","m":"L","x":58,"y":0.88},{"p":"e2","m":"L","x":60,"y":0.86},{"p":"e2","m":"L","x":61,"y":0.816},{"p":"e2","m":"L","x":63,"y":0.905},{"p":"e2","m":"L","x":64.5,"y":0.86},{"p":"e2","m":"L","x":66,"y":0.905},{"p":"e2","m":"L","x":67.5,"y":0.79},{"p":"e2","m":"L","x":69,"y":0.7},{"p":"e2","m":"L","x":70.5,"y":0.86},{"p":"e2","m":"L","x":72,"y":0.73},{"p":"e2","m":"L","x":74,"y":0.93},{"p":"e2","m":"L","x":75,"y":0.88},{"p":"e2","m":"L","x":77,"y":0.915},{"p":"e2","m":"L","x":78.5,"y":0.85},{"p":"e2","m":"L","x":80,"y":0.905},{"p":"e2","m":"L","x":81.5,"y":0.75},{"p":"e2","m":"L","x":83,"y":0.816},{"p":"e2","m":"L","x":84.5,"y":0.74},{"p":"e2","m":"L","x":86,"y":0.86},{"p":"e2","m":"L","x":88,"y":0.7},{"p":"e2","m":"L","x":89,"y":0.816},{"p":"e2","m":"L","x":91,"y":0.68},{"p":"e2","m":"L","x":92.5,"y":0.84},{"p":"e2","m":"L","x":94,"y":0.73},{"p":"e2","m":"L","x":95.5,"y":0.905},{"p":"e2","m":"L","x":97,"y":0.816},{"p":"e2","m":"L","x":98.5,"y":0.75},{"p":"e2","m":"L","x":100,"y":0.827},{"p":"e2","m":"L","x":102.5,"y":0.79},{"p":"e2","m":"L","x":105,"y":0.76},{"p":"e2","m":"L","x":107,"y":0.84},{"p":"e2","m":"L","x":109.5,"y":0.905},{"p":"e2","m":"L","x":112,"y":0.86},{"p":"e2","m":"L","x":114,"y":0.84},{"p":"e2","m":"L","x":116.5,"y":0.93},{"p":"e2","m":"L","x":119,"y":0.905},{"p":"e2","m":"L","x":121,"y":0.97},{"p":"e2","m":"L","x":123.5,"y":0.86},{"p":"e2","m":"L","x":125,"y":0.97},{"p":"e2","m":"L","x":127,"y":0.79},{"p":"e2","m":"L","x":129,"y":0.86},{"p":"e2","m":"L","x":130.5,"y":0.816},{"p":"e2","m":"L","x":132,"y":0.98},{"p":"e2","m":"L","x":134,"y":0.86},{"p":"e2","m":"L","x":136,"y":0.95},{"p":"e2","m":"L","x":137.5,"y":0.816},{"p":"e2","m":"L","x":139.5,"y":0.905},{"p":"e2","m":"L","x":141,"y":0.79},{"p":"e2","m":"L","x":142.5,"y":0.93},{"p":"e2","m":"L","x":144.5,"y":0.86},{"p":"e2","m":"L","x":146,"y":0.827},{"p":"e2","m":"L","x":148,"y":0.97},{"p":"e2","m":"L","x":149.5,"y":0.86},{"p":"e2","m":"L","x":151.5,"y":0.905},{"p":"e2","m":"L","x":153.5,"y":0.86},{"p":"e2","m":"L","x":155,"y":0.84},{"p":"e2","m":"L","x":157,"y":0.88},{"p":"e2","m":"L","x":160,"y":0.84},{"p":"e2","m":"L","x":162,"y":0.87},{"p":"e2","m":"L","x":164,"y":0.84},{"p":"e2","m":"L","x":166.5,"y":0.89},{"p":"e2","m":"L","x":169,"y":0.85},{"p":"e2","m":"L","x":171,"y":0.8},{"p":"e2","m":"L","x":173.5,"y":0.87},{"p":"e2","m":"L","x":176,"y":0.93},{"p":"e2","m":"L","x":178,"y":0.94},{"p":"e2","m":"L","x":180.5,"y":0.905},{"p":"e2","m":"L","x":183,"y":0.86},{"p":"e2","m":"L","x":185,"y":0.905},{"p":"e2","m":"L","x":187.5,"y":0.93},{"p":"e2","m":"L","x":190,"y":0.905},{"p":"e2","m":"L","x":192,"y":0.915},{"p":"e2","m":"L","x":194.5,"y":0.895},{"p":"e2","m":"L","x":197,"y":0.93},{"p":"e2","m":"L","x":200,"y":0.94},
{"p":"e2","m":"C","x":0,"y":0.5},{"p":"e2","m":"C","x":1,"y":0.73},{"p":"e2","m":"C","x":2,"y":0.73},{"p":"e2","m":"C","x":3.5,"y":0.59},{"p":"e2","m":"C","x":4.7,"y":0.53},{"p":"e2","m":"C","x":6,"y":0.48},{"p":"e2","m":"C","x":7,"y":0.47},{"p":"e2","m":"C","x":8,"y":0.48},{"p":"e2","m":"C","x":9,"y":0.46},{"p":"e2","m":"C","x":10.5,"y":0.44},{"p":"e2","m":"C","x":11.5,"y":0.5},{"p":"e2","m":"C","x":14,"y":0.515},{"p":"e2","m":"C","x":17.5,"y":0.52},{"p":"e2","m":"C","x":21,"y":0.51},{"p":"e2","m":"C","x":22,"y":0.48},{"p":"e2","m":"C","x":24.5,"y":0.495},{"p":"e2","m":"C","x":28,"y":0.505},{"p":"e2","m":"C","x":35,"y":0.52},{"p":"e2","m":"C","x":40,"y":0.51},{"p":"e2","m":"C","x":56,"y":0.509},{"p":"e2","m":"C","x":68,"y":0.508},{"p":"e2","m":"C","x":79,"y":0.511},{"p":"e2","m":"C","x":91,"y":0.507},{"p":"e2","m":"C","x":114,"y":0.508},{"p":"e2","m":"C","x":138,"y":0.507},{"p":"e2","m":"C","x":161,"y":0.505},{"p":"e2","m":"C","x":200,"y":0.505},
{"p":"e2","m":"Z","x":0,"y":0.5},{"p":"e2","m":"Z","x":0.5,"y":0.815},{"p":"e2","m":"Z","x":1,"y":0.48},{"p":"e2","m":"Z","x":2,"y":0.015},{"p":"e2","m":"Z","x":3.5,"y":0.027},{"p":"e2","m":"Z","x":6,"y":0.04},{"p":"e2","m":"Z","x":7,"y":0.015},{"p":"e2","m":"Z","x":9,"y":0.027},{"p":"e2","m":"Z","x":11.5,"y":0.04},{"p":"e2","m":"Z","x":14,"y":0.015},{"p":"e2","m":"Z","x":16,"y":0.027},{"p":"e2","m":"Z","x":17.5,"y":0.06},{"p":"e2","m":"Z","x":18.5,"y":0.127},{"p":"e2","m":"Z","x":19.5,"y":0.26},{"p":"e2","m":"Z","x":20,"y":0.127},{"p":"e2","m":"Z","x":21,"y":0.17},{"p":"e2","m":"Z","x":22,"y":0.15},{"p":"e2","m":"Z","x":23,"y":0.17},{"p":"e2","m":"Z","x":24,"y":0.44},{"p":"e2","m":"Z","x":25,"y":0.39},{"p":"e2","m":"Z","x":27,"y":0.33},{"p":"e2","m":"Z","x":28.5,"y":0.35},{"p":"e2","m":"Z","x":30,"y":0.29},{"p":"e2","m":"Z","x":32,"y":0.35},{"p":"e2","m":"Z","x":33,"y":0.3},{"p":"e2","m":"Z","x":35,"y":0.33},{"p":"e2","m":"Z","x":36.5,"y":0.29},{"p":"e2","m":"Z","x":38,"y":0.37},{"p":"e2","m":"Z","x":40,"y":0.315},{"p":"e2","m":"Z","x":41,"y":0.39},{"p":"e2","m":"Z","x":42.5,"y":0.415},{"p":"e2","m":"Z","x":44,"y":0.36},{"p":"e2","m":"Z","x":46,"y":0.39},{"p":"e2","m":"Z","x":47,"y":0.42},{"p":"e2","m":"Z","x":49,"y":0.39},{"p":"e2","m":"Z","x":50.5,"y":0.415},{"p":"e2","m":"Z","x":52,"y":0.38},{"p":"e2","m":"Z","x":53.5,"y":0.42},{"p":"e2","m":"Z","x":55,"y":0.35},{"p":"e2","m":"Z","x":56.5,"y":0.415},{"p":"e2","m":"Z","x":58,"y":0.34},{"p":"e2","m":"Z","x":60,"y":0.42},{"p":"e2","m":"Z","x":61,"y":0.35},{"p":"e2","m":"Z","x":63,"y":0.415},{"p":"e2","m":"Z","x":65,"y":0.33},{"p":"e2","m":"Z","x":67.5,"y":0.315},{"p":"e2","m":"Z","x":70,"y":0.3},{"p":"e2","m":"Z","x":72,"y":0.315},{"p":"e2","m":"Z","x":74.5,"y":0.34},{"p":"e2","m":"Z","x":77,"y":0.36},{"p":"e2","m":"Z","x":79,"y":0.37},{"p":"e2","m":"Z","x":81.5,"y":0.35},{"p":"e2","m":"Z","x":84,"y":0.36},{"p":"e2","m":"Z","x":86,"y":0.35},{"p":"e2","m":"Z","x":88.5,"y":0.36},{"p":"e2","m":"Z","x":91,"y":0.37},{"p":"e2","m":"Z","x":93,"y":0.38},{"p":"e2","m":"Z","x":95.5,"y":0.37},{"p":"e2","m":"Z","x":98,"y":0.355},{"p":"e2","m":"Z","x":100,"y":0.36},{"p":"e2","m":"Z","x":102.5,"y":0.34},{"p":"e2","m":"Z","x":105,"y":0.35},{"p":"e2","m":"Z","x":107,"y":0.33},{"p":"e2","m":"Z","x":109.5,"y":0.34},{"p":"e2","m":"Z","x":112,"y":0.315},{"p":"e2","m":"Z","x":114,"y":0.36},{"p":"e2","m":"Z","x":116.5,"y":0.33},{"p":"e2","m":"Z","x":119,"y":0.315},{"p":"e2","m":"Z","x":121,"y":0.33},{"p":"e2","m":"Z","x":123.5,"y":0.34},{"p":"e2","m":"Z","x":126,"y":0.33},{"p":"e2","m":"Z","x":128,"y":0.3},{"p":"e2","m":"Z","x":130.5,"y":0.32},{"p":"e2","m":"Z","x":133,"y":0.29},{"p":"e2","m":"Z","x":135,"y":0.315},{"p":"e2","m":"Z","x":137.5,"y":0.31},{"p":"e2","m":"Z","x":140,"y":0.315},{"p":"e2","m":"Z","x":142,"y":0.3},{"p":"e2","m":"Z","x":144.5,"y":0.31},{"p":"e2","m":"Z","x":147,"y":0.28},{"p":"e2","m":"Z","x":150,"y":0.287},{"p":"e2","m":"Z","x":154,"y":0.3},{"p":"e2","m":"Z","x":157,"y":0.29},{"p":"e2","m":"Z","x":161,"y":0.31},{"p":"e2","m":"Z","x":164,"y":0.32},{"p":"e2","m":"Z","x":168,"y":0.31},{"p":"e2","m":"Z","x":171,"y":0.315},{"p":"e2","m":"Z","x":175,"y":0.32},{"p":"e2","m":"Z","x":180,"y":0.327},{"p":"e2","m":"Z","x":184,"y":0.33},{"p":"e2","m":"Z","x":189,"y":0.335},{"p":"e2","m":"Z","x":193,"y":0.33},{"p":"e2","m":"Z","x":200,"y":0.327}
]},
"vconcat":[
{"hconcat":[
 {"title":"(a) Question formation","vconcat":[
  {"width":316,"height":166,"transform":[{"filter":"datum.p=='a1'&&datum.b!=1"}],"mark":{"type":"line","strokeWidth":1.5,"clip":true},
   "encoding":{"x":{"field":"x","type":"quantitative","scale":{"domain":[-15,315],"nice":false,"zero":false},"axis":{"title":null,"values":[0,100,200,300],"labelExpr":"datum.value*1000"}},
   "y":{"field":"y","type":"quantitative","scale":{"domain":[-0.05,1.05],"nice":false,"zero":false},"axis":{"title":["In-Distribution","Accuracy"],"values":[0,0.25,0.5,0.75,1],"format":".2f"}},
   "color":{"field":"m","type":"nominal","scale":{"domain":["L","S","P","C","Z"],"range":["#e41a1c","#377eb8","#4daf4a","#984ea3","#ff7f00"]},"legend":{"title":null,"labelExpr":"datum.label=='L'?'Language Modeling':datum.label=='S'?'Seq2Seq Modeling':datum.label=='P'?'Prefix Language Modeling':datum.label=='C'?'Classification':'Cloze Completion'"}}}},
  {"width":316,"height":166,
   "encoding":{"x":{"field":"x","type":"quantitative","scale":{"domain":[-15,315],"nice":false,"zero":false},"axis":{"title":"Training Step","values":[0,100,200,300],"labelExpr":"datum.value*1000"}},
   "y":{"field":"y","type":"quantitative","scale":{"domain":[-0.05,1.05],"nice":false,"zero":false},"axis":{"title":["Generalization","Accuracy"],"values":[0,0.25,0.5,0.75,1],"format":".2f"}}},
   "layer":[
    {"transform":[{"filter":"datum.p=='a2'&&datum.b==1"}],"mark":{"type":"area","opacity":0.07,"clip":true},"encoding":{"y2":{"field":"y2"},"fill":{"field":"m","type":"nominal","scale":{"domain":["L","S","P","C","Z"],"range":["#e41a1c","#377eb8","#4daf4a","#984ea3","#ff7f00"]},"legend":null}}},
    {"transform":[{"filter":"datum.p=='a2'&&datum.b!=1"}],"mark":{"type":"line","strokeWidth":1.5,"clip":true},"encoding":{"color":{"field":"m","type":"nominal","scale":{"domain":["L","S","P","C","Z"],"range":["#e41a1c","#377eb8","#4daf4a","#984ea3","#ff7f00"]},"legend":null}}}
   ]}
 ],"spacing":9,"resolve":{"scale":{"color":"independent","fill":"independent","x":"independent","y":"independent"},"legend":{"color":"independent"}}},
 {"title":"(b) Question formation (German)","vconcat":[
  {"width":316,"height":166,
   "encoding":{"x":{"field":"x","type":"quantitative","scale":{"domain":[-15,315],"nice":false,"zero":false},"axis":{"title":null,"values":[0,100,200,300],"labelExpr":"datum.value*1000"}},
   "y":{"field":"y","type":"quantitative","scale":{"domain":[-0.05,1.05],"nice":false,"zero":false},"axis":{"title":["In-Distribution","Accuracy"],"values":[0,0.25,0.5,0.75,1],"format":".2f"}}},
   "layer":[
    {"transform":[{"filter":"datum.p=='b1'&&datum.b==1"}],"mark":{"type":"area","opacity":0.07,"clip":true},"encoding":{"y2":{"field":"y2"},"fill":{"field":"m","type":"nominal","scale":{"domain":["L","S","P","C","Z"],"range":["#e41a1c","#377eb8","#4daf4a","#984ea3","#ff7f00"]},"legend":null}}},
    {"transform":[{"filter":"datum.p=='b1'&&datum.b!=1"}],"mark":{"type":"line","strokeWidth":1.5,"clip":true},"encoding":{"color":{"field":"m","type":"nominal","scale":{"domain":["L","S","P","C","Z"],"range":["#e41a1c","#377eb8","#4daf4a","#984ea3","#ff7f00"]},"legend":{"title":null,"labelExpr":"datum.label=='L'?'Language Modeling':datum.label=='S'?'Seq2Seq Modeling':datum.label=='P'?'Prefix Language Modeling':datum.label=='C'?'Classification':'Cloze Completion'"}}}}
   ]},
  {"width":316,"height":166,
   "encoding":{"x":{"field":"x","type":"quantitative","scale":{"domain":[-15,315],"nice":false,"zero":false},"axis":{"title":"Training Step","values":[0,100,200,300],"labelExpr":"datum.value*1000"}},
   "y":{"field":"y","type":"quantitative","scale":{"domain":[-0.05,1.05],"nice":false,"zero":false},"axis":{"title":["Generalization","Accuracy"],"values":[0,0.25,0.5,0.75,1],"format":".2f"}}},
   "layer":[
    {"transform":[{"filter":"datum.p=='b2'&&datum.b==1"}],"mark":{"type":"area","opacity":0.06,"clip":true},"encoding":{"y2":{"field":"y2"},"fill":{"field":"m","type":"nominal","scale":{"domain":["L","S","P","C","Z"],"range":["#e41a1c","#377eb8","#4daf4a","#984ea3","#ff7f00"]},"legend":null}}},
    {"transform":[{"filter":"datum.p=='b2'&&datum.b!=1"}],"mark":{"type":"line","strokeWidth":1.5,"clip":true},"encoding":{"color":{"field":"m","type":"nominal","scale":{"domain":["L","S","P","C","Z"],"range":["#e41a1c","#377eb8","#4daf4a","#984ea3","#ff7f00"]},"legend":null}}}
   ]}
 ],"spacing":9,"resolve":{"scale":{"color":"independent","fill":"independent","x":"independent","y":"independent"},"legend":{"color":"independent"}}},
 {"title":"(c) Passivization","vconcat":[
  {"width":316,"height":166,"transform":[{"filter":"datum.p=='c1'&&datum.b!=1"}],"mark":{"type":"line","strokeWidth":1.5,"clip":true},
   "encoding":{"x":{"field":"x","type":"quantitative","scale":{"domain":[-15,315],"nice":false,"zero":false},"axis":{"title":null,"values":[0,100,200,300],"labelExpr":"datum.value*1000"}},
   "y":{"field":"y","type":"quantitative","scale":{"domain":[-0.05,1.05],"nice":false,"zero":false},"axis":{"title":["In-Distribution","Accuracy"],"values":[0,0.25,0.5,0.75,1],"format":".2f"}},
   "color":{"field":"m","type":"nominal","scale":{"domain":["L","S","P","C"],"range":["#e41a1c","#377eb8","#4daf4a","#984ea3"]},"legend":{"title":null,"labelExpr":"datum.label=='L'?'Language Modeling':datum.label=='S'?'Seq2Seq Modeling':datum.label=='P'?'Prefix Language Modeling':'Classification'"}}}},
  {"width":316,"height":166,
   "encoding":{"x":{"field":"x","type":"quantitative","scale":{"domain":[-15,315],"nice":false,"zero":false},"axis":{"title":"Training Step","values":[0,100,200,300],"labelExpr":"datum.value*1000"}},
   "y":{"field":"y","type":"quantitative","scale":{"domain":[-0.05,1.05],"nice":false,"zero":false},"axis":{"title":["Generalization","Accuracy"],"values":[0,0.25,0.5,0.75,1],"format":".2f"}}},
   "layer":[
    {"transform":[{"filter":"datum.p=='c2'&&datum.b==1"}],"mark":{"type":"area","opacity":0.07,"clip":true},"encoding":{"y2":{"field":"y2"},"fill":{"field":"m","type":"nominal","scale":{"domain":["L","S","P","C"],"range":["#e41a1c","#377eb8","#4daf4a","#984ea3"]},"legend":null}}},
    {"transform":[{"filter":"datum.p=='c2'&&datum.b!=1"}],"mark":{"type":"line","strokeWidth":1.5,"clip":true},"encoding":{"color":{"field":"m","type":"nominal","scale":{"domain":["L","S","P","C"],"range":["#e41a1c","#377eb8","#4daf4a","#984ea3"]},"legend":null}}}
   ]}
 ],"spacing":9,"resolve":{"scale":{"color":"independent","fill":"independent","x":"independent","y":"independent"},"legend":{"color":"independent"}}}
],"spacing":18,"resolve":{"scale":{"color":"independent","fill":"independent","x":"independent","y":"independent"},"legend":{"color":"independent"}}},
{"hconcat":[
 {"title":"(d) Tense reinflection","vconcat":[
  {"width":316,"height":166,"transform":[{"filter":"datum.p=='d1'&&datum.b!=1"}],"mark":{"type":"line","strokeWidth":1.5,"clip":true},
   "encoding":{"x":{"field":"x","type":"quantitative","scale":{"domain":[-15,315],"nice":false,"zero":false},"axis":{"title":null,"values":[0,100,200,300],"labelExpr":"datum.value*1000"}},
   "y":{"field":"y","type":"quantitative","scale":{"domain":[-0.05,1.05],"nice":false,"zero":false},"axis":{"title":["In-Distribution","Accuracy"],"values":[0,0.25,0.5,0.75,1],"format":".2f"}},
   "color":{"field":"m","type":"nominal","scale":{"domain":["L","S","P","C","Z"],"range":["#e41a1c","#377eb8","#4daf4a","#984ea3","#ff7f00"]},"legend":{"title":null,"labelExpr":"datum.label=='L'?'Language Modeling':datum.label=='S'?'Seq2Seq Modeling':datum.label=='P'?'Prefix Language Modeling':datum.label=='C'?'Classification':'Cloze Completion'"}}}},
  {"width":316,"height":166,
   "encoding":{"x":{"field":"x","type":"quantitative","scale":{"domain":[-15,315],"nice":false,"zero":false},"axis":{"title":"Training Step","values":[0,100,200,300],"labelExpr":"datum.value*1000"}},
   "y":{"field":"y","type":"quantitative","scale":{"domain":[-0.05,1.05],"nice":false,"zero":false},"axis":{"title":["Generalization","Accuracy"],"values":[0,0.25,0.5,0.75,1],"format":".2f"}}},
   "layer":[
    {"transform":[{"filter":"datum.p=='d2'&&datum.b==1"}],"mark":{"type":"area","opacity":0.05,"clip":true},"encoding":{"y2":{"field":"y2"},"fill":{"field":"m","type":"nominal","scale":{"domain":["L","S","P","C","Z"],"range":["#e41a1c","#377eb8","#4daf4a","#984ea3","#ff7f00"]},"legend":null}}},
    {"transform":[{"filter":"datum.p=='d2'&&datum.b!=1"}],"mark":{"type":"line","strokeWidth":1.5,"clip":true},"encoding":{"color":{"field":"m","type":"nominal","scale":{"domain":["L","S","P","C","Z"],"range":["#e41a1c","#377eb8","#4daf4a","#984ea3","#ff7f00"]},"legend":null}}}
   ]}
 ],"spacing":9,"resolve":{"scale":{"color":"independent","fill":"independent","x":"independent","y":"independent"},"legend":{"color":"independent"}}},
 {"title":"(e) Simple agreement","vconcat":[
  {"width":316,"height":166,
   "encoding":{"x":{"field":"x","type":"quantitative","scale":{"domain":[-10,210],"nice":false,"zero":false},"axis":{"title":null,"values":[0,50,100,150,200],"labelExpr":"datum.value*1000"}},
   "y":{"field":"y","type":"quantitative","scale":{"domain":[0.462,1.026],"nice":false,"zero":false},"axis":{"title":["In-Distribution","Accuracy"],"values":[0.6,0.8,1],"format":".1f"}}},
   "layer":[
    {"transform":[{"filter":"datum.p=='e1'&&datum.b==1"}],"mark":{"type":"area","opacity":0.06,"clip":true},"encoding":{"y2":{"field":"y2"},"fill":{"field":"m","type":"nominal","scale":{"domain":["L","C","Z"],"range":["#e41a1c","#377eb8","#4daf4a"]},"legend":null}}},
    {"transform":[{"filter":"datum.p=='e1'&&datum.b!=1"}],"mark":{"type":"line","strokeWidth":1.5,"clip":true},"encoding":{"color":{"field":"m","type":"nominal","scale":{"domain":["L","C","Z"],"range":["#e41a1c","#377eb8","#4daf4a"]},"legend":{"title":null,"labelExpr":"datum.label=='L'?'Language Modeling':datum.label=='C'?'Classification':'Cloze Completion'"}}}}
   ]},
  {"width":316,"height":166,
   "encoding":{"x":{"field":"x","type":"quantitative","scale":{"domain":[-10,210],"nice":false,"zero":false},"axis":{"title":"Training Step","values":[0,50,100,150,200],"labelExpr":"datum.value*1000"}},
   "y":{"field":"y","type":"quantitative","scale":{"domain":[-0.05,1.05],"nice":false,"zero":false},"axis":{"title":["Generalization","Accuracy"],"values":[0,0.25,0.5,0.75,1],"format":".2f"}}},
   "layer":[
    {"transform":[{"filter":"datum.p=='e2'&&datum.b==1"}],"mark":{"type":"area","opacity":0.06,"clip":true},"encoding":{"y2":{"field":"y2"},"fill":{"field":"m","type":"nominal","scale":{"domain":["L","C","Z"],"range":["#e41a1c","#377eb8","#4daf4a"]},"legend":null}}},
    {"transform":[{"filter":"datum.p=='e2'&&datum.b!=1"}],"mark":{"type":"line","strokeWidth":1.5,"clip":true},"encoding":{"color":{"field":"m","type":"nominal","scale":{"domain":["L","C","Z"],"range":["#e41a1c","#377eb8","#4daf4a"]},"legend":null}}}
   ]}
 ],"spacing":9,"resolve":{"scale":{"color":"independent","fill":"independent","x":"independent","y":"independent"},"legend":{"color":"independent"}}}
],"spacing":18,"resolve":{"scale":{"color":"independent","fill":"independent","x":"independent","y":"independent"},"legend":{"color":"independent"}}}
],
"spacing":12,
"center":true,
"resolve":{"scale":{"color":"independent","fill":"independent","x":"independent","y":"independent"},"legend":{"color":"independent"}}
}
